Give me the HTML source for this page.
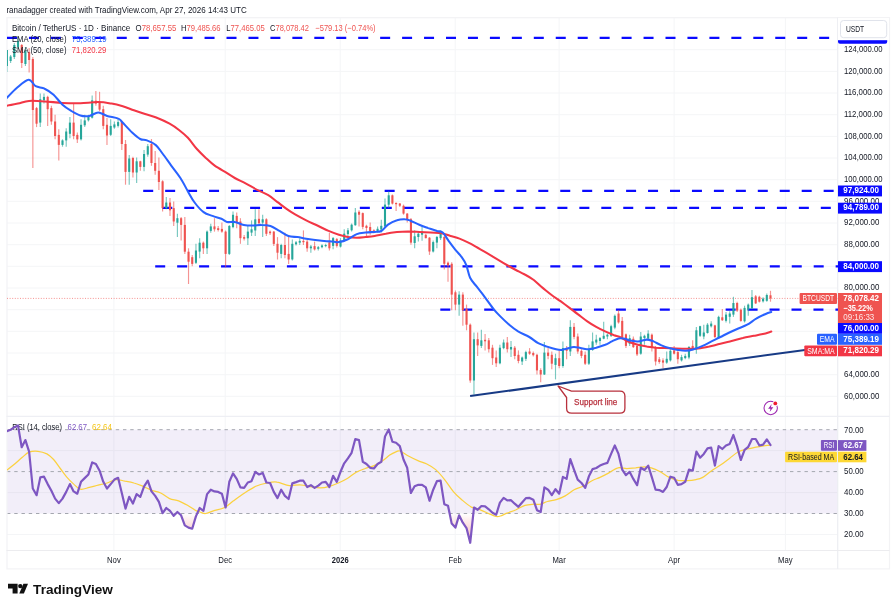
<!DOCTYPE html>
<html><head><meta charset="utf-8"><title>BTCUSDT</title>
<style>html,body{margin:0;padding:0;background:#fff;}body{width:896px;height:609px;overflow:hidden;font-family:"Liberation Sans", sans-serif;}svg{display:block;}</style>
</head><body>
<svg width="896" height="609" viewBox="0 0 896 609" font-family='"Liberation Sans", sans-serif'>
<defs>
<clipPath id="cm"><rect x="7" y="18" width="831" height="398"/></clipPath>
<clipPath id="cr"><rect x="7" y="416.5" width="831" height="134"/></clipPath>
<clipPath id="below30"><rect x="7" y="513.5" width="831" height="40"/></clipPath>
<clipPath id="above70"><rect x="7" y="416" width="831" height="13.7"/></clipPath>
<linearGradient id="gos" gradientUnits="userSpaceOnUse" x1="0" y1="513.5" x2="0" y2="565.9"><stop offset="0" stop-color="#ef5350" stop-opacity="0"/><stop offset="1" stop-color="#ef5350" stop-opacity="0.8"/></linearGradient>
<linearGradient id="gob" gradientUnits="userSpaceOnUse" x1="0" y1="429.7" x2="0" y2="387.8"><stop offset="0" stop-color="#26a69a" stop-opacity="0"/><stop offset="1" stop-color="#26a69a" stop-opacity="0.5"/></linearGradient>
</defs>
<rect width="896" height="609" fill="#fff"/>
<text x="6.4" y="12.9" font-size="9.3" fill="#131722" text-anchor="start" font-weight="normal" textLength="240.3" lengthAdjust="spacingAndGlyphs" >ranadagger created with TradingView.com, Apr 27, 2026 14:43 UTC</text>
<line x1="113.9" y1="18" x2="113.9" y2="550" stroke="#f4f5f7" stroke-width="1"/>
<line x1="225.2" y1="18" x2="225.2" y2="550" stroke="#f4f5f7" stroke-width="1"/>
<line x1="340.2" y1="18" x2="340.2" y2="550" stroke="#f4f5f7" stroke-width="1"/>
<line x1="455.2" y1="18" x2="455.2" y2="550" stroke="#f4f5f7" stroke-width="1"/>
<line x1="559.1" y1="18" x2="559.1" y2="550" stroke="#f4f5f7" stroke-width="1"/>
<line x1="674.1" y1="18" x2="674.1" y2="550" stroke="#f4f5f7" stroke-width="1"/>
<line x1="785.4" y1="18" x2="785.4" y2="550" stroke="#f4f5f7" stroke-width="1"/>
<line x1="7" y1="396.3" x2="838" y2="396.3" stroke="#f4f5f7" stroke-width="1"/>
<line x1="7" y1="374.7" x2="838" y2="374.7" stroke="#f4f5f7" stroke-width="1"/>
<line x1="7" y1="353.0" x2="838" y2="353.0" stroke="#f4f5f7" stroke-width="1"/>
<line x1="7" y1="331.3" x2="838" y2="331.3" stroke="#f4f5f7" stroke-width="1"/>
<line x1="7" y1="309.7" x2="838" y2="309.7" stroke="#f4f5f7" stroke-width="1"/>
<line x1="7" y1="288.0" x2="838" y2="288.0" stroke="#f4f5f7" stroke-width="1"/>
<line x1="7" y1="266.3" x2="838" y2="266.3" stroke="#f4f5f7" stroke-width="1"/>
<line x1="7" y1="244.7" x2="838" y2="244.7" stroke="#f4f5f7" stroke-width="1"/>
<line x1="7" y1="223.0" x2="838" y2="223.0" stroke="#f4f5f7" stroke-width="1"/>
<line x1="7" y1="201.3" x2="838" y2="201.3" stroke="#f4f5f7" stroke-width="1"/>
<line x1="7" y1="179.7" x2="838" y2="179.7" stroke="#f4f5f7" stroke-width="1"/>
<line x1="7" y1="158.0" x2="838" y2="158.0" stroke="#f4f5f7" stroke-width="1"/>
<line x1="7" y1="136.4" x2="838" y2="136.4" stroke="#f4f5f7" stroke-width="1"/>
<line x1="7" y1="114.7" x2="838" y2="114.7" stroke="#f4f5f7" stroke-width="1"/>
<line x1="7" y1="93.0" x2="838" y2="93.0" stroke="#f4f5f7" stroke-width="1"/>
<line x1="7" y1="71.4" x2="838" y2="71.4" stroke="#f4f5f7" stroke-width="1"/>
<line x1="7" y1="49.7" x2="838" y2="49.7" stroke="#f4f5f7" stroke-width="1"/>
<line x1="7" y1="534.5" x2="838" y2="534.5" stroke="#f4f5f7" stroke-width="1"/>
<line x1="7" y1="492.6" x2="838" y2="492.6" stroke="#f4f5f7" stroke-width="1"/>
<line x1="7" y1="450.6" x2="838" y2="450.6" stroke="#f4f5f7" stroke-width="1"/>
<rect x="7" y="429.7" width="831" height="83.8" fill="#7e57c2" fill-opacity="0.1"/>
<line x1="7" y1="429.7" x2="838" y2="429.7" stroke="#a4a7af" stroke-width="1" stroke-dasharray="3.4 3.85"/>
<line x1="7" y1="471.6" x2="838" y2="471.6" stroke="#a4a7af" stroke-width="1" stroke-dasharray="3.4 3.85"/>
<line x1="7" y1="513.5" x2="838" y2="513.5" stroke="#a4a7af" stroke-width="1" stroke-dasharray="3.4 3.85"/>
<rect x="7.0" y="17.7" width="882.5" height="551.2" fill="none" stroke="#f3f3f5" stroke-width="1.25"/>
<line x1="837.7" y1="17.5" x2="837.7" y2="569" stroke="#edeef3" stroke-width="1.25"/>
<line x1="6.5" y1="416.4" x2="889.5" y2="416.4" stroke="#eeeff4" stroke-width="1.4"/>
<line x1="6.5" y1="550.5" x2="889.5" y2="550.5" stroke="#ececef" stroke-width="1.1"/>
<line x1="7" y1="298.4" x2="838" y2="298.4" stroke="#ef5350" stroke-width="0.8" stroke-dasharray="1 1.6" stroke-opacity="0.8"/>
<line x1="7.0" y1="37.8" x2="838" y2="37.8" stroke="#0a0aff" stroke-width="2.2" stroke-dasharray="10 11.95"/>
<line x1="143.2" y1="190.9" x2="838" y2="190.9" stroke="#0a0aff" stroke-width="2.2" stroke-dasharray="10 11.95"/>
<line x1="162.3" y1="207.9" x2="838" y2="207.9" stroke="#0a0aff" stroke-width="2.2" stroke-dasharray="10 11.95"/>
<line x1="155.2" y1="266.3" x2="838" y2="266.3" stroke="#0a0aff" stroke-width="2.2" stroke-dasharray="10 11.95"/>
<line x1="440.3" y1="309.7" x2="838" y2="309.7" stroke="#0a0aff" stroke-width="2.2" stroke-dasharray="10 11.95"/>
<g clip-path="url(#cm)" shape-rendering="auto">
<line x1="6.90" y1="50.0" x2="6.90" y2="72.0" stroke="#26a69a" stroke-width="1.15" stroke-opacity="0.62"/>
<rect x="5.85" y="50.0" width="2.1" height="16.0" fill="#26a69a"/>
<line x1="10.61" y1="55.0" x2="10.61" y2="63.0" stroke="#26a69a" stroke-width="1.15" stroke-opacity="0.62"/>
<rect x="9.56" y="56.5" width="2.1" height="4.5" fill="#26a69a"/>
<line x1="14.31" y1="43.0" x2="14.31" y2="59.0" stroke="#26a69a" stroke-width="1.15" stroke-opacity="0.62"/>
<rect x="13.26" y="45.0" width="2.1" height="12.0" fill="#26a69a"/>
<line x1="18.02" y1="37.0" x2="18.02" y2="49.0" stroke="#26a69a" stroke-width="1.15" stroke-opacity="0.62"/>
<rect x="16.97" y="41.0" width="2.1" height="6.0" fill="#26a69a"/>
<line x1="21.73" y1="44.0" x2="21.73" y2="68.0" stroke="#ef5350" stroke-width="1.15" stroke-opacity="0.62"/>
<rect x="20.68" y="45.0" width="2.1" height="18.0" fill="#ef5350"/>
<line x1="25.43" y1="47.0" x2="25.43" y2="66.0" stroke="#26a69a" stroke-width="1.15" stroke-opacity="0.62"/>
<rect x="24.38" y="51.0" width="2.1" height="13.0" fill="#26a69a"/>
<line x1="29.14" y1="48.0" x2="29.14" y2="72.5" stroke="#ef5350" stroke-width="1.15" stroke-opacity="0.62"/>
<rect x="28.09" y="52.0" width="2.1" height="8.0" fill="#ef5350"/>
<line x1="32.85" y1="57.0" x2="32.85" y2="168.0" stroke="#ef5350" stroke-width="1.15" stroke-opacity="0.62"/>
<rect x="31.80" y="59.0" width="2.1" height="51.0" fill="#ef5350"/>
<line x1="36.55" y1="107.0" x2="36.55" y2="127.1" stroke="#ef5350" stroke-width="1.15" stroke-opacity="0.62"/>
<rect x="35.50" y="108.1" width="2.1" height="15.6" fill="#ef5350"/>
<line x1="40.26" y1="93.6" x2="40.26" y2="127.1" stroke="#26a69a" stroke-width="1.15" stroke-opacity="0.62"/>
<rect x="39.21" y="99.2" width="2.1" height="23.4" fill="#26a69a"/>
<line x1="43.97" y1="93.6" x2="43.97" y2="103.6" stroke="#26a69a" stroke-width="1.15" stroke-opacity="0.62"/>
<rect x="42.92" y="96.9" width="2.1" height="3.3" fill="#26a69a"/>
<line x1="47.67" y1="95.8" x2="47.67" y2="125.9" stroke="#ef5350" stroke-width="1.15" stroke-opacity="0.62"/>
<rect x="46.62" y="96.9" width="2.1" height="12.3" fill="#ef5350"/>
<line x1="51.38" y1="105.8" x2="51.38" y2="124.8" stroke="#ef5350" stroke-width="1.15" stroke-opacity="0.62"/>
<rect x="50.33" y="108.1" width="2.1" height="13.4" fill="#ef5350"/>
<line x1="55.09" y1="114.8" x2="55.09" y2="139.3" stroke="#ef5350" stroke-width="1.15" stroke-opacity="0.62"/>
<rect x="54.04" y="121.5" width="2.1" height="14.5" fill="#ef5350"/>
<line x1="58.80" y1="129.3" x2="58.80" y2="160.5" stroke="#ef5350" stroke-width="1.15" stroke-opacity="0.62"/>
<rect x="57.75" y="134.9" width="2.1" height="10.0" fill="#ef5350"/>
<line x1="62.50" y1="139.3" x2="62.50" y2="146.7" stroke="#26a69a" stroke-width="1.15" stroke-opacity="0.62"/>
<rect x="61.45" y="140.4" width="2.1" height="4.5" fill="#26a69a"/>
<line x1="66.21" y1="128.2" x2="66.21" y2="146.7" stroke="#26a69a" stroke-width="1.15" stroke-opacity="0.62"/>
<rect x="65.16" y="131.5" width="2.1" height="8.9" fill="#26a69a"/>
<line x1="69.92" y1="117.0" x2="69.92" y2="138.2" stroke="#26a69a" stroke-width="1.15" stroke-opacity="0.62"/>
<rect x="68.87" y="122.6" width="2.1" height="11.2" fill="#26a69a"/>
<line x1="73.62" y1="103.6" x2="73.62" y2="139.3" stroke="#ef5350" stroke-width="1.15" stroke-opacity="0.62"/>
<rect x="72.57" y="122.6" width="2.1" height="13.4" fill="#ef5350"/>
<line x1="77.33" y1="132.6" x2="77.33" y2="143.1" stroke="#ef5350" stroke-width="1.15" stroke-opacity="0.62"/>
<rect x="76.28" y="134.9" width="2.1" height="4.5" fill="#ef5350"/>
<line x1="81.04" y1="119.2" x2="81.04" y2="140.4" stroke="#26a69a" stroke-width="1.15" stroke-opacity="0.62"/>
<rect x="79.99" y="124.8" width="2.1" height="14.5" fill="#26a69a"/>
<line x1="84.74" y1="114.8" x2="84.74" y2="127.1" stroke="#26a69a" stroke-width="1.15" stroke-opacity="0.62"/>
<rect x="83.69" y="120.4" width="2.1" height="4.9" fill="#26a69a"/>
<line x1="88.45" y1="114.8" x2="88.45" y2="121.5" stroke="#26a69a" stroke-width="1.15" stroke-opacity="0.62"/>
<rect x="87.40" y="117.0" width="2.1" height="3.3" fill="#26a69a"/>
<line x1="92.16" y1="95.4" x2="92.16" y2="118.6" stroke="#26a69a" stroke-width="1.15" stroke-opacity="0.62"/>
<rect x="91.11" y="100.3" width="2.1" height="17.4" fill="#26a69a"/>
<line x1="95.86" y1="90.9" x2="95.86" y2="105.8" stroke="#ef5350" stroke-width="1.15" stroke-opacity="0.62"/>
<rect x="94.81" y="100.7" width="2.1" height="2.9" fill="#ef5350"/>
<line x1="99.57" y1="91.8" x2="99.57" y2="111.4" stroke="#ef5350" stroke-width="1.15" stroke-opacity="0.62"/>
<rect x="98.52" y="102.5" width="2.1" height="7.1" fill="#ef5350"/>
<line x1="103.28" y1="105.8" x2="103.28" y2="129.3" stroke="#ef5350" stroke-width="1.15" stroke-opacity="0.62"/>
<rect x="102.23" y="109.2" width="2.1" height="16.7" fill="#ef5350"/>
<line x1="106.98" y1="118.1" x2="106.98" y2="144.9" stroke="#ef5350" stroke-width="1.15" stroke-opacity="0.62"/>
<rect x="105.93" y="124.8" width="2.1" height="10.7" fill="#ef5350"/>
<line x1="110.69" y1="119.2" x2="110.69" y2="136.0" stroke="#26a69a" stroke-width="1.15" stroke-opacity="0.62"/>
<rect x="109.64" y="125.9" width="2.1" height="8.9" fill="#26a69a"/>
<line x1="114.40" y1="121.5" x2="114.40" y2="128.8" stroke="#26a69a" stroke-width="1.15" stroke-opacity="0.62"/>
<rect x="113.35" y="124.4" width="2.1" height="3.1" fill="#26a69a"/>
<line x1="118.10" y1="118.1" x2="118.10" y2="127.5" stroke="#26a69a" stroke-width="1.15" stroke-opacity="0.62"/>
<rect x="117.05" y="122.1" width="2.1" height="3.8" fill="#26a69a"/>
<line x1="121.81" y1="120.5" x2="121.81" y2="150.0" stroke="#ef5350" stroke-width="1.15" stroke-opacity="0.62"/>
<rect x="120.76" y="121.7" width="2.1" height="22.3" fill="#ef5350"/>
<line x1="125.52" y1="140.0" x2="125.52" y2="184.7" stroke="#ef5350" stroke-width="1.15" stroke-opacity="0.62"/>
<rect x="124.47" y="144.0" width="2.1" height="27.9" fill="#ef5350"/>
<line x1="129.22" y1="155.0" x2="129.22" y2="184.7" stroke="#26a69a" stroke-width="1.15" stroke-opacity="0.62"/>
<rect x="128.17" y="158.5" width="2.1" height="13.4" fill="#26a69a"/>
<line x1="132.93" y1="156.8" x2="132.93" y2="177.5" stroke="#ef5350" stroke-width="1.15" stroke-opacity="0.62"/>
<rect x="131.88" y="158.0" width="2.1" height="14.5" fill="#ef5350"/>
<line x1="136.64" y1="157.4" x2="136.64" y2="183.0" stroke="#26a69a" stroke-width="1.15" stroke-opacity="0.62"/>
<rect x="135.59" y="161.3" width="2.1" height="11.2" fill="#26a69a"/>
<line x1="140.34" y1="160.7" x2="140.34" y2="170.8" stroke="#ef5350" stroke-width="1.15" stroke-opacity="0.62"/>
<rect x="139.29" y="161.3" width="2.1" height="5.6" fill="#ef5350"/>
<line x1="144.05" y1="150.0" x2="144.05" y2="171.3" stroke="#26a69a" stroke-width="1.15" stroke-opacity="0.62"/>
<rect x="143.00" y="154.0" width="2.1" height="12.9" fill="#26a69a"/>
<line x1="147.76" y1="144.0" x2="147.76" y2="156.8" stroke="#26a69a" stroke-width="1.15" stroke-opacity="0.62"/>
<rect x="146.71" y="146.2" width="2.1" height="8.4" fill="#26a69a"/>
<line x1="151.47" y1="139.0" x2="151.47" y2="165.8" stroke="#ef5350" stroke-width="1.15" stroke-opacity="0.62"/>
<rect x="150.42" y="144.0" width="2.1" height="19.0" fill="#ef5350"/>
<line x1="155.17" y1="151.0" x2="155.17" y2="174.7" stroke="#ef5350" stroke-width="1.15" stroke-opacity="0.62"/>
<rect x="154.12" y="163.0" width="2.1" height="7.8" fill="#ef5350"/>
<line x1="158.88" y1="157.4" x2="158.88" y2="190.0" stroke="#ef5350" stroke-width="1.15" stroke-opacity="0.62"/>
<rect x="157.83" y="170.8" width="2.1" height="11.2" fill="#ef5350"/>
<line x1="162.59" y1="180.2" x2="162.59" y2="211.5" stroke="#ef5350" stroke-width="1.15" stroke-opacity="0.62"/>
<rect x="161.54" y="181.3" width="2.1" height="26.8" fill="#ef5350"/>
<line x1="166.29" y1="197.0" x2="166.29" y2="209.2" stroke="#26a69a" stroke-width="1.15" stroke-opacity="0.62"/>
<rect x="165.24" y="202.5" width="2.1" height="5.6" fill="#26a69a"/>
<line x1="170.00" y1="198.1" x2="170.00" y2="215.9" stroke="#ef5350" stroke-width="1.15" stroke-opacity="0.62"/>
<rect x="168.95" y="202.5" width="2.1" height="7.8" fill="#ef5350"/>
<line x1="173.71" y1="201.4" x2="173.71" y2="226.0" stroke="#ef5350" stroke-width="1.15" stroke-opacity="0.62"/>
<rect x="172.66" y="208.1" width="2.1" height="13.4" fill="#ef5350"/>
<line x1="177.41" y1="213.7" x2="177.41" y2="237.1" stroke="#26a69a" stroke-width="1.15" stroke-opacity="0.62"/>
<rect x="176.36" y="218.2" width="2.1" height="4.5" fill="#26a69a"/>
<line x1="181.12" y1="217.1" x2="181.12" y2="240.5" stroke="#ef5350" stroke-width="1.15" stroke-opacity="0.62"/>
<rect x="180.07" y="218.2" width="2.1" height="6.7" fill="#ef5350"/>
<line x1="184.83" y1="217.1" x2="184.83" y2="253.9" stroke="#ef5350" stroke-width="1.15" stroke-opacity="0.62"/>
<rect x="183.78" y="224.9" width="2.1" height="26.8" fill="#ef5350"/>
<line x1="188.53" y1="248.3" x2="188.53" y2="284.0" stroke="#ef5350" stroke-width="1.15" stroke-opacity="0.62"/>
<rect x="187.48" y="251.7" width="2.1" height="10.0" fill="#ef5350"/>
<line x1="192.24" y1="255.0" x2="192.24" y2="266.2" stroke="#ef5350" stroke-width="1.15" stroke-opacity="0.62"/>
<rect x="191.19" y="257.2" width="2.1" height="6.7" fill="#ef5350"/>
<line x1="195.95" y1="243.8" x2="195.95" y2="263.9" stroke="#26a69a" stroke-width="1.15" stroke-opacity="0.62"/>
<rect x="194.90" y="250.5" width="2.1" height="12.3" fill="#26a69a"/>
<line x1="199.65" y1="238.3" x2="199.65" y2="258.3" stroke="#26a69a" stroke-width="1.15" stroke-opacity="0.62"/>
<rect x="198.60" y="242.7" width="2.1" height="8.9" fill="#26a69a"/>
<line x1="203.36" y1="241.6" x2="203.36" y2="253.9" stroke="#ef5350" stroke-width="1.15" stroke-opacity="0.62"/>
<rect x="202.31" y="242.7" width="2.1" height="5.6" fill="#ef5350"/>
<line x1="207.07" y1="230.4" x2="207.07" y2="253.9" stroke="#26a69a" stroke-width="1.15" stroke-opacity="0.62"/>
<rect x="206.02" y="231.6" width="2.1" height="16.7" fill="#26a69a"/>
<line x1="210.77" y1="223.8" x2="210.77" y2="232.7" stroke="#26a69a" stroke-width="1.15" stroke-opacity="0.62"/>
<rect x="209.72" y="226.4" width="2.1" height="4.5" fill="#26a69a"/>
<line x1="214.48" y1="218.2" x2="214.48" y2="231.6" stroke="#ef5350" stroke-width="1.15" stroke-opacity="0.62"/>
<rect x="213.43" y="226.4" width="2.1" height="2.9" fill="#ef5350"/>
<line x1="218.19" y1="226.0" x2="218.19" y2="231.6" stroke="#ef5350" stroke-width="1.15" stroke-opacity="0.62"/>
<rect x="217.14" y="228.2" width="2.1" height="1.8" fill="#ef5350"/>
<line x1="221.89" y1="222.6" x2="221.89" y2="232.7" stroke="#ef5350" stroke-width="1.15" stroke-opacity="0.62"/>
<rect x="220.84" y="228.9" width="2.1" height="2.7" fill="#ef5350"/>
<line x1="225.60" y1="230.4" x2="225.60" y2="267.3" stroke="#ef5350" stroke-width="1.15" stroke-opacity="0.62"/>
<rect x="224.55" y="231.6" width="2.1" height="22.3" fill="#ef5350"/>
<line x1="229.31" y1="224.9" x2="229.31" y2="255.0" stroke="#26a69a" stroke-width="1.15" stroke-opacity="0.62"/>
<rect x="228.26" y="226.0" width="2.1" height="27.9" fill="#26a69a"/>
<line x1="233.01" y1="211.5" x2="233.01" y2="228.2" stroke="#26a69a" stroke-width="1.15" stroke-opacity="0.62"/>
<rect x="231.96" y="214.8" width="2.1" height="12.3" fill="#26a69a"/>
<line x1="236.72" y1="212.6" x2="236.72" y2="228.2" stroke="#ef5350" stroke-width="1.15" stroke-opacity="0.62"/>
<rect x="235.67" y="215.9" width="2.1" height="6.7" fill="#ef5350"/>
<line x1="240.43" y1="218.2" x2="240.43" y2="243.8" stroke="#ef5350" stroke-width="1.15" stroke-opacity="0.62"/>
<rect x="239.38" y="221.5" width="2.1" height="16.7" fill="#ef5350"/>
<line x1="244.14" y1="234.9" x2="244.14" y2="240.5" stroke="#ef5350" stroke-width="1.15" stroke-opacity="0.62"/>
<rect x="243.09" y="237.1" width="2.1" height="1.6" fill="#ef5350"/>
<line x1="247.84" y1="224.9" x2="247.84" y2="245.0" stroke="#26a69a" stroke-width="1.15" stroke-opacity="0.62"/>
<rect x="246.79" y="231.6" width="2.1" height="6.7" fill="#26a69a"/>
<line x1="251.55" y1="220.4" x2="251.55" y2="236.0" stroke="#26a69a" stroke-width="1.15" stroke-opacity="0.62"/>
<rect x="250.50" y="229.3" width="2.1" height="3.3" fill="#26a69a"/>
<line x1="255.26" y1="209.2" x2="255.26" y2="236.0" stroke="#26a69a" stroke-width="1.15" stroke-opacity="0.62"/>
<rect x="254.21" y="219.3" width="2.1" height="11.2" fill="#26a69a"/>
<line x1="258.96" y1="209.2" x2="258.96" y2="223.8" stroke="#ef5350" stroke-width="1.15" stroke-opacity="0.62"/>
<rect x="257.91" y="218.8" width="2.1" height="4.5" fill="#ef5350"/>
<line x1="262.67" y1="214.8" x2="262.67" y2="237.1" stroke="#26a69a" stroke-width="1.15" stroke-opacity="0.62"/>
<rect x="261.62" y="219.3" width="2.1" height="3.3" fill="#26a69a"/>
<line x1="266.38" y1="218.2" x2="266.38" y2="236.0" stroke="#ef5350" stroke-width="1.15" stroke-opacity="0.62"/>
<rect x="265.33" y="219.3" width="2.1" height="14.5" fill="#ef5350"/>
<line x1="270.08" y1="230.4" x2="270.08" y2="234.9" stroke="#ef5350" stroke-width="1.15" stroke-opacity="0.62"/>
<rect x="269.03" y="231.6" width="2.1" height="1.6" fill="#ef5350"/>
<line x1="273.79" y1="230.9" x2="273.79" y2="246.1" stroke="#ef5350" stroke-width="1.15" stroke-opacity="0.62"/>
<rect x="272.74" y="231.6" width="2.1" height="12.3" fill="#ef5350"/>
<line x1="277.50" y1="237.1" x2="277.50" y2="259.5" stroke="#ef5350" stroke-width="1.15" stroke-opacity="0.62"/>
<rect x="276.45" y="243.8" width="2.1" height="8.9" fill="#ef5350"/>
<line x1="281.20" y1="243.8" x2="281.20" y2="258.3" stroke="#26a69a" stroke-width="1.15" stroke-opacity="0.62"/>
<rect x="280.15" y="245.0" width="2.1" height="8.9" fill="#26a69a"/>
<line x1="284.91" y1="232.7" x2="284.91" y2="258.3" stroke="#ef5350" stroke-width="1.15" stroke-opacity="0.62"/>
<rect x="283.86" y="245.0" width="2.1" height="10.0" fill="#ef5350"/>
<line x1="288.62" y1="236.0" x2="288.62" y2="263.9" stroke="#ef5350" stroke-width="1.15" stroke-opacity="0.62"/>
<rect x="287.57" y="253.9" width="2.1" height="5.6" fill="#ef5350"/>
<line x1="292.32" y1="239.4" x2="292.32" y2="260.6" stroke="#26a69a" stroke-width="1.15" stroke-opacity="0.62"/>
<rect x="291.27" y="243.8" width="2.1" height="15.6" fill="#26a69a"/>
<line x1="296.03" y1="240.9" x2="296.03" y2="245.4" stroke="#26a69a" stroke-width="1.15" stroke-opacity="0.62"/>
<rect x="294.98" y="242.3" width="2.1" height="2.0" fill="#26a69a"/>
<line x1="299.74" y1="238.3" x2="299.74" y2="245.0" stroke="#26a69a" stroke-width="1.15" stroke-opacity="0.62"/>
<rect x="298.69" y="240.9" width="2.1" height="1.8" fill="#26a69a"/>
<line x1="303.44" y1="230.4" x2="303.44" y2="245.0" stroke="#ef5350" stroke-width="1.15" stroke-opacity="0.62"/>
<rect x="302.39" y="240.9" width="2.1" height="1.3" fill="#ef5350"/>
<line x1="307.15" y1="239.4" x2="307.15" y2="251.7" stroke="#ef5350" stroke-width="1.15" stroke-opacity="0.62"/>
<rect x="306.10" y="241.6" width="2.1" height="6.7" fill="#ef5350"/>
<line x1="310.86" y1="245.0" x2="310.86" y2="252.8" stroke="#26a69a" stroke-width="1.15" stroke-opacity="0.62"/>
<rect x="309.81" y="246.5" width="2.1" height="1.8" fill="#26a69a"/>
<line x1="314.56" y1="241.6" x2="314.56" y2="250.5" stroke="#ef5350" stroke-width="1.15" stroke-opacity="0.62"/>
<rect x="313.51" y="246.1" width="2.1" height="3.3" fill="#ef5350"/>
<line x1="318.27" y1="246.1" x2="318.27" y2="250.5" stroke="#26a69a" stroke-width="1.15" stroke-opacity="0.62"/>
<rect x="317.22" y="247.2" width="2.1" height="1.6" fill="#26a69a"/>
<line x1="321.98" y1="244.3" x2="321.98" y2="248.3" stroke="#26a69a" stroke-width="1.15" stroke-opacity="0.62"/>
<rect x="320.93" y="245.4" width="2.1" height="1.8" fill="#26a69a"/>
<line x1="325.68" y1="243.8" x2="325.68" y2="247.2" stroke="#26a69a" stroke-width="1.15" stroke-opacity="0.62"/>
<rect x="324.63" y="245.0" width="2.1" height="1.1" fill="#26a69a"/>
<line x1="329.39" y1="232.7" x2="329.39" y2="250.5" stroke="#ef5350" stroke-width="1.15" stroke-opacity="0.62"/>
<rect x="328.34" y="242.3" width="2.1" height="6.0" fill="#ef5350"/>
<line x1="333.10" y1="237.0" x2="333.10" y2="249.3" stroke="#26a69a" stroke-width="1.15" stroke-opacity="0.62"/>
<rect x="332.05" y="238.1" width="2.1" height="7.8" fill="#26a69a"/>
<line x1="336.81" y1="238.1" x2="336.81" y2="247.5" stroke="#ef5350" stroke-width="1.15" stroke-opacity="0.62"/>
<rect x="335.76" y="239.2" width="2.1" height="6.7" fill="#ef5350"/>
<line x1="340.51" y1="238.1" x2="340.51" y2="247.5" stroke="#26a69a" stroke-width="1.15" stroke-opacity="0.62"/>
<rect x="339.46" y="240.4" width="2.1" height="6.2" fill="#26a69a"/>
<line x1="344.22" y1="229.2" x2="344.22" y2="241.5" stroke="#26a69a" stroke-width="1.15" stroke-opacity="0.62"/>
<rect x="343.17" y="233.7" width="2.1" height="6.7" fill="#26a69a"/>
<line x1="347.93" y1="228.1" x2="347.93" y2="235.9" stroke="#26a69a" stroke-width="1.15" stroke-opacity="0.62"/>
<rect x="346.88" y="230.3" width="2.1" height="3.8" fill="#26a69a"/>
<line x1="351.63" y1="223.6" x2="351.63" y2="231.4" stroke="#26a69a" stroke-width="1.15" stroke-opacity="0.62"/>
<rect x="350.58" y="224.7" width="2.1" height="5.6" fill="#26a69a"/>
<line x1="355.34" y1="208.0" x2="355.34" y2="225.8" stroke="#26a69a" stroke-width="1.15" stroke-opacity="0.62"/>
<rect x="354.29" y="212.5" width="2.1" height="12.7" fill="#26a69a"/>
<line x1="359.05" y1="210.2" x2="359.05" y2="226.5" stroke="#ef5350" stroke-width="1.15" stroke-opacity="0.62"/>
<rect x="358.00" y="211.8" width="2.1" height="2.9" fill="#ef5350"/>
<line x1="362.75" y1="212.5" x2="362.75" y2="229.2" stroke="#ef5350" stroke-width="1.15" stroke-opacity="0.62"/>
<rect x="361.70" y="213.1" width="2.1" height="13.8" fill="#ef5350"/>
<line x1="366.46" y1="224.7" x2="366.46" y2="237.0" stroke="#ef5350" stroke-width="1.15" stroke-opacity="0.62"/>
<rect x="365.41" y="225.8" width="2.1" height="2.2" fill="#ef5350"/>
<line x1="370.17" y1="222.5" x2="370.17" y2="234.8" stroke="#ef5350" stroke-width="1.15" stroke-opacity="0.62"/>
<rect x="369.12" y="227.0" width="2.1" height="4.5" fill="#ef5350"/>
<line x1="373.87" y1="229.2" x2="373.87" y2="233.2" stroke="#ef5350" stroke-width="1.15" stroke-opacity="0.62"/>
<rect x="372.82" y="230.3" width="2.1" height="1.6" fill="#ef5350"/>
<line x1="377.58" y1="226.5" x2="377.58" y2="232.5" stroke="#26a69a" stroke-width="1.15" stroke-opacity="0.62"/>
<rect x="376.53" y="228.8" width="2.1" height="2.7" fill="#26a69a"/>
<line x1="381.29" y1="219.8" x2="381.29" y2="232.5" stroke="#26a69a" stroke-width="1.15" stroke-opacity="0.62"/>
<rect x="380.24" y="225.8" width="2.1" height="3.8" fill="#26a69a"/>
<line x1="384.99" y1="198.4" x2="384.99" y2="228.1" stroke="#26a69a" stroke-width="1.15" stroke-opacity="0.62"/>
<rect x="383.94" y="204.6" width="2.1" height="21.9" fill="#26a69a"/>
<line x1="388.70" y1="191.2" x2="388.70" y2="208.0" stroke="#26a69a" stroke-width="1.15" stroke-opacity="0.62"/>
<rect x="387.65" y="195.3" width="2.1" height="9.4" fill="#26a69a"/>
<line x1="392.41" y1="194.6" x2="392.41" y2="204.6" stroke="#ef5350" stroke-width="1.15" stroke-opacity="0.62"/>
<rect x="391.36" y="195.3" width="2.1" height="8.3" fill="#ef5350"/>
<line x1="396.11" y1="202.4" x2="396.11" y2="210.9" stroke="#ef5350" stroke-width="1.15" stroke-opacity="0.62"/>
<rect x="395.06" y="202.9" width="2.1" height="1.3" fill="#ef5350"/>
<line x1="399.82" y1="202.9" x2="399.82" y2="206.9" stroke="#ef5350" stroke-width="1.15" stroke-opacity="0.62"/>
<rect x="398.77" y="203.5" width="2.1" height="2.2" fill="#ef5350"/>
<line x1="403.53" y1="204.6" x2="403.53" y2="214.7" stroke="#ef5350" stroke-width="1.15" stroke-opacity="0.62"/>
<rect x="402.48" y="205.8" width="2.1" height="7.8" fill="#ef5350"/>
<line x1="407.23" y1="213.1" x2="407.23" y2="222.5" stroke="#ef5350" stroke-width="1.15" stroke-opacity="0.62"/>
<rect x="406.18" y="213.6" width="2.1" height="6.2" fill="#ef5350"/>
<line x1="410.94" y1="218.0" x2="410.94" y2="244.8" stroke="#ef5350" stroke-width="1.15" stroke-opacity="0.62"/>
<rect x="409.89" y="219.2" width="2.1" height="23.4" fill="#ef5350"/>
<line x1="414.65" y1="230.3" x2="414.65" y2="248.2" stroke="#26a69a" stroke-width="1.15" stroke-opacity="0.62"/>
<rect x="413.60" y="236.3" width="2.1" height="6.7" fill="#26a69a"/>
<line x1="418.35" y1="231.9" x2="418.35" y2="241.5" stroke="#26a69a" stroke-width="1.15" stroke-opacity="0.62"/>
<rect x="417.30" y="233.7" width="2.1" height="3.3" fill="#26a69a"/>
<line x1="422.06" y1="226.5" x2="422.06" y2="240.8" stroke="#26a69a" stroke-width="1.15" stroke-opacity="0.62"/>
<rect x="421.01" y="231.4" width="2.1" height="3.3" fill="#26a69a"/>
<line x1="425.77" y1="233.7" x2="425.77" y2="238.6" stroke="#ef5350" stroke-width="1.15" stroke-opacity="0.62"/>
<rect x="424.72" y="234.8" width="2.1" height="3.3" fill="#ef5350"/>
<line x1="429.48" y1="237.0" x2="429.48" y2="254.9" stroke="#ef5350" stroke-width="1.15" stroke-opacity="0.62"/>
<rect x="428.43" y="237.7" width="2.1" height="13.8" fill="#ef5350"/>
<line x1="433.18" y1="240.4" x2="433.18" y2="252.6" stroke="#26a69a" stroke-width="1.15" stroke-opacity="0.62"/>
<rect x="432.13" y="242.1" width="2.1" height="9.4" fill="#26a69a"/>
<line x1="436.89" y1="235.9" x2="436.89" y2="248.2" stroke="#26a69a" stroke-width="1.15" stroke-opacity="0.62"/>
<rect x="435.84" y="237.0" width="2.1" height="5.6" fill="#26a69a"/>
<line x1="440.60" y1="230.3" x2="440.60" y2="239.9" stroke="#26a69a" stroke-width="1.15" stroke-opacity="0.62"/>
<rect x="439.55" y="233.7" width="2.1" height="4.5" fill="#26a69a"/>
<line x1="444.30" y1="235.9" x2="444.30" y2="269.4" stroke="#ef5350" stroke-width="1.15" stroke-opacity="0.62"/>
<rect x="443.25" y="237.0" width="2.1" height="26.8" fill="#ef5350"/>
<line x1="448.01" y1="261.6" x2="448.01" y2="281.7" stroke="#ef5350" stroke-width="1.15" stroke-opacity="0.62"/>
<rect x="446.96" y="262.7" width="2.1" height="2.7" fill="#ef5350"/>
<line x1="451.72" y1="262.2" x2="451.72" y2="310.2" stroke="#ef5350" stroke-width="1.15" stroke-opacity="0.62"/>
<rect x="450.67" y="263.8" width="2.1" height="30.8" fill="#ef5350"/>
<line x1="455.42" y1="290.5" x2="455.42" y2="310.2" stroke="#ef5350" stroke-width="1.15" stroke-opacity="0.62"/>
<rect x="454.37" y="292.3" width="2.1" height="12.3" fill="#ef5350"/>
<line x1="459.13" y1="291.2" x2="459.13" y2="315.8" stroke="#26a69a" stroke-width="1.15" stroke-opacity="0.62"/>
<rect x="458.08" y="294.6" width="2.1" height="10.0" fill="#26a69a"/>
<line x1="462.84" y1="292.3" x2="462.84" y2="325.8" stroke="#ef5350" stroke-width="1.15" stroke-opacity="0.62"/>
<rect x="461.79" y="294.6" width="2.1" height="15.6" fill="#ef5350"/>
<line x1="466.54" y1="304.6" x2="466.54" y2="330.3" stroke="#ef5350" stroke-width="1.15" stroke-opacity="0.62"/>
<rect x="465.49" y="309.1" width="2.1" height="15.6" fill="#ef5350"/>
<line x1="470.25" y1="323.6" x2="470.25" y2="382.7" stroke="#ef5350" stroke-width="1.15" stroke-opacity="0.62"/>
<rect x="469.20" y="324.7" width="2.1" height="55.8" fill="#ef5350"/>
<line x1="473.96" y1="332.5" x2="473.96" y2="394.6" stroke="#26a69a" stroke-width="1.15" stroke-opacity="0.62"/>
<rect x="472.91" y="339.2" width="2.1" height="41.3" fill="#26a69a"/>
<line x1="477.66" y1="332.5" x2="477.66" y2="355.9" stroke="#ef5350" stroke-width="1.15" stroke-opacity="0.62"/>
<rect x="476.61" y="339.2" width="2.1" height="6.2" fill="#ef5350"/>
<line x1="481.37" y1="329.8" x2="481.37" y2="348.1" stroke="#26a69a" stroke-width="1.15" stroke-opacity="0.62"/>
<rect x="480.32" y="340.3" width="2.1" height="5.6" fill="#26a69a"/>
<line x1="485.08" y1="334.0" x2="485.08" y2="350.5" stroke="#ef5350" stroke-width="1.15" stroke-opacity="0.62"/>
<rect x="484.03" y="339.8" width="2.1" height="1.5" fill="#ef5350"/>
<line x1="488.78" y1="338.1" x2="488.78" y2="352.6" stroke="#ef5350" stroke-width="1.15" stroke-opacity="0.62"/>
<rect x="487.73" y="340.3" width="2.1" height="8.9" fill="#ef5350"/>
<line x1="492.49" y1="344.8" x2="492.49" y2="364.9" stroke="#ef5350" stroke-width="1.15" stroke-opacity="0.62"/>
<rect x="491.44" y="347.7" width="2.1" height="10.5" fill="#ef5350"/>
<line x1="496.20" y1="350.4" x2="496.20" y2="367.1" stroke="#ef5350" stroke-width="1.15" stroke-opacity="0.62"/>
<rect x="495.15" y="357.5" width="2.1" height="5.8" fill="#ef5350"/>
<line x1="499.90" y1="344.8" x2="499.90" y2="364.2" stroke="#26a69a" stroke-width="1.15" stroke-opacity="0.62"/>
<rect x="498.85" y="347.7" width="2.1" height="15.6" fill="#26a69a"/>
<line x1="503.61" y1="339.6" x2="503.61" y2="349.2" stroke="#26a69a" stroke-width="1.15" stroke-opacity="0.62"/>
<rect x="502.56" y="342.5" width="2.1" height="5.6" fill="#26a69a"/>
<line x1="507.32" y1="337.0" x2="507.32" y2="352.6" stroke="#ef5350" stroke-width="1.15" stroke-opacity="0.62"/>
<rect x="506.27" y="342.5" width="2.1" height="6.7" fill="#ef5350"/>
<line x1="511.02" y1="341.0" x2="511.02" y2="357.1" stroke="#26a69a" stroke-width="1.15" stroke-opacity="0.62"/>
<rect x="509.97" y="347.0" width="2.1" height="2.5" fill="#26a69a"/>
<line x1="514.73" y1="345.9" x2="514.73" y2="359.3" stroke="#ef5350" stroke-width="1.15" stroke-opacity="0.62"/>
<rect x="513.68" y="347.7" width="2.1" height="8.3" fill="#ef5350"/>
<line x1="518.44" y1="350.4" x2="518.44" y2="363.3" stroke="#ef5350" stroke-width="1.15" stroke-opacity="0.62"/>
<rect x="517.39" y="354.8" width="2.1" height="6.2" fill="#ef5350"/>
<line x1="522.15" y1="356.6" x2="522.15" y2="364.9" stroke="#26a69a" stroke-width="1.15" stroke-opacity="0.62"/>
<rect x="521.10" y="357.5" width="2.1" height="4.0" fill="#26a69a"/>
<line x1="525.85" y1="350.8" x2="525.85" y2="361.1" stroke="#26a69a" stroke-width="1.15" stroke-opacity="0.62"/>
<rect x="524.80" y="352.1" width="2.1" height="6.7" fill="#26a69a"/>
<line x1="529.56" y1="348.1" x2="529.56" y2="354.8" stroke="#ef5350" stroke-width="1.15" stroke-opacity="0.62"/>
<rect x="528.51" y="351.5" width="2.1" height="2.2" fill="#ef5350"/>
<line x1="533.27" y1="351.5" x2="533.27" y2="356.6" stroke="#ef5350" stroke-width="1.15" stroke-opacity="0.62"/>
<rect x="532.22" y="353.0" width="2.1" height="2.2" fill="#ef5350"/>
<line x1="536.97" y1="353.7" x2="536.97" y2="374.5" stroke="#ef5350" stroke-width="1.15" stroke-opacity="0.62"/>
<rect x="535.92" y="354.8" width="2.1" height="15.6" fill="#ef5350"/>
<line x1="540.68" y1="368.2" x2="540.68" y2="382.3" stroke="#ef5350" stroke-width="1.15" stroke-opacity="0.62"/>
<rect x="539.63" y="370.0" width="2.1" height="4.5" fill="#ef5350"/>
<line x1="544.39" y1="341.9" x2="544.39" y2="374.9" stroke="#26a69a" stroke-width="1.15" stroke-opacity="0.62"/>
<rect x="543.34" y="352.6" width="2.1" height="21.9" fill="#26a69a"/>
<line x1="548.09" y1="347.0" x2="548.09" y2="359.3" stroke="#ef5350" stroke-width="1.15" stroke-opacity="0.62"/>
<rect x="547.04" y="352.6" width="2.1" height="3.3" fill="#ef5350"/>
<line x1="551.80" y1="351.5" x2="551.80" y2="369.3" stroke="#ef5350" stroke-width="1.15" stroke-opacity="0.62"/>
<rect x="550.75" y="354.8" width="2.1" height="8.9" fill="#ef5350"/>
<line x1="555.51" y1="353.7" x2="555.51" y2="379.4" stroke="#26a69a" stroke-width="1.15" stroke-opacity="0.62"/>
<rect x="554.46" y="358.2" width="2.1" height="6.7" fill="#26a69a"/>
<line x1="559.21" y1="350.4" x2="559.21" y2="368.2" stroke="#ef5350" stroke-width="1.15" stroke-opacity="0.62"/>
<rect x="558.16" y="358.2" width="2.1" height="7.8" fill="#ef5350"/>
<line x1="562.92" y1="341.4" x2="562.92" y2="367.8" stroke="#26a69a" stroke-width="1.15" stroke-opacity="0.62"/>
<rect x="561.87" y="348.1" width="2.1" height="17.9" fill="#26a69a"/>
<line x1="566.63" y1="345.9" x2="566.63" y2="359.3" stroke="#ef5350" stroke-width="1.15" stroke-opacity="0.62"/>
<rect x="565.58" y="348.1" width="2.1" height="2.7" fill="#ef5350"/>
<line x1="570.33" y1="320.2" x2="570.33" y2="355.9" stroke="#26a69a" stroke-width="1.15" stroke-opacity="0.62"/>
<rect x="569.28" y="326.9" width="2.1" height="24.6" fill="#26a69a"/>
<line x1="574.04" y1="323.1" x2="574.04" y2="339.2" stroke="#ef5350" stroke-width="1.15" stroke-opacity="0.62"/>
<rect x="572.99" y="326.9" width="2.1" height="10.0" fill="#ef5350"/>
<line x1="577.75" y1="333.6" x2="577.75" y2="353.7" stroke="#ef5350" stroke-width="1.15" stroke-opacity="0.62"/>
<rect x="576.70" y="336.5" width="2.1" height="15.0" fill="#ef5350"/>
<line x1="581.45" y1="349.2" x2="581.45" y2="358.2" stroke="#ef5350" stroke-width="1.15" stroke-opacity="0.62"/>
<rect x="580.40" y="350.8" width="2.1" height="5.1" fill="#ef5350"/>
<line x1="585.16" y1="351.5" x2="585.16" y2="364.9" stroke="#ef5350" stroke-width="1.15" stroke-opacity="0.62"/>
<rect x="584.11" y="354.8" width="2.1" height="8.9" fill="#ef5350"/>
<line x1="588.87" y1="344.8" x2="588.87" y2="364.9" stroke="#26a69a" stroke-width="1.15" stroke-opacity="0.62"/>
<rect x="587.82" y="349.2" width="2.1" height="14.5" fill="#26a69a"/>
<line x1="592.57" y1="332.5" x2="592.57" y2="350.8" stroke="#26a69a" stroke-width="1.15" stroke-opacity="0.62"/>
<rect x="591.52" y="341.4" width="2.1" height="8.5" fill="#26a69a"/>
<line x1="596.28" y1="334.7" x2="596.28" y2="344.8" stroke="#26a69a" stroke-width="1.15" stroke-opacity="0.62"/>
<rect x="595.23" y="339.6" width="2.1" height="2.9" fill="#26a69a"/>
<line x1="599.99" y1="337.0" x2="599.99" y2="344.8" stroke="#26a69a" stroke-width="1.15" stroke-opacity="0.62"/>
<rect x="598.94" y="338.1" width="2.1" height="2.9" fill="#26a69a"/>
<line x1="603.69" y1="321.8" x2="603.69" y2="339.2" stroke="#26a69a" stroke-width="1.15" stroke-opacity="0.62"/>
<rect x="602.64" y="335.8" width="2.1" height="2.9" fill="#26a69a"/>
<line x1="607.40" y1="333.6" x2="607.40" y2="339.2" stroke="#26a69a" stroke-width="1.15" stroke-opacity="0.62"/>
<rect x="606.35" y="334.7" width="2.1" height="1.8" fill="#26a69a"/>
<line x1="611.11" y1="324.7" x2="611.11" y2="337.0" stroke="#26a69a" stroke-width="1.15" stroke-opacity="0.62"/>
<rect x="610.06" y="326.2" width="2.1" height="9.6" fill="#26a69a"/>
<line x1="614.82" y1="314.6" x2="614.82" y2="329.2" stroke="#26a69a" stroke-width="1.15" stroke-opacity="0.62"/>
<rect x="613.77" y="315.8" width="2.1" height="11.8" fill="#26a69a"/>
<line x1="618.52" y1="310.2" x2="618.52" y2="323.6" stroke="#ef5350" stroke-width="1.15" stroke-opacity="0.62"/>
<rect x="617.47" y="313.5" width="2.1" height="8.9" fill="#ef5350"/>
<line x1="622.23" y1="316.9" x2="622.23" y2="339.2" stroke="#ef5350" stroke-width="1.15" stroke-opacity="0.62"/>
<rect x="621.18" y="320.9" width="2.1" height="16.1" fill="#ef5350"/>
<line x1="625.94" y1="333.6" x2="625.94" y2="348.1" stroke="#ef5350" stroke-width="1.15" stroke-opacity="0.62"/>
<rect x="624.89" y="334.3" width="2.1" height="11.6" fill="#ef5350"/>
<line x1="629.64" y1="334.7" x2="629.64" y2="345.9" stroke="#26a69a" stroke-width="1.15" stroke-opacity="0.62"/>
<rect x="628.59" y="338.1" width="2.1" height="5.6" fill="#26a69a"/>
<line x1="633.35" y1="336.5" x2="633.35" y2="348.1" stroke="#ef5350" stroke-width="1.15" stroke-opacity="0.62"/>
<rect x="632.30" y="338.8" width="2.1" height="8.3" fill="#ef5350"/>
<line x1="637.06" y1="344.8" x2="637.06" y2="355.9" stroke="#ef5350" stroke-width="1.15" stroke-opacity="0.62"/>
<rect x="636.01" y="345.9" width="2.1" height="8.5" fill="#ef5350"/>
<line x1="640.76" y1="332.1" x2="640.76" y2="354.8" stroke="#26a69a" stroke-width="1.15" stroke-opacity="0.62"/>
<rect x="639.71" y="336.5" width="2.1" height="17.2" fill="#26a69a"/>
<line x1="644.47" y1="334.7" x2="644.47" y2="344.8" stroke="#26a69a" stroke-width="1.15" stroke-opacity="0.62"/>
<rect x="643.42" y="335.8" width="2.1" height="2.2" fill="#26a69a"/>
<line x1="648.18" y1="330.3" x2="648.18" y2="339.6" stroke="#26a69a" stroke-width="1.15" stroke-opacity="0.62"/>
<rect x="647.13" y="333.6" width="2.1" height="5.1" fill="#26a69a"/>
<line x1="651.88" y1="333.6" x2="651.88" y2="351.5" stroke="#ef5350" stroke-width="1.15" stroke-opacity="0.62"/>
<rect x="650.83" y="334.7" width="2.1" height="13.4" fill="#ef5350"/>
<line x1="655.59" y1="345.9" x2="655.59" y2="365.5" stroke="#ef5350" stroke-width="1.15" stroke-opacity="0.62"/>
<rect x="654.54" y="347.0" width="2.1" height="14.5" fill="#ef5350"/>
<line x1="659.30" y1="357.1" x2="659.30" y2="363.8" stroke="#ef5350" stroke-width="1.15" stroke-opacity="0.62"/>
<rect x="658.25" y="359.3" width="2.1" height="2.7" fill="#ef5350"/>
<line x1="663.00" y1="358.2" x2="663.00" y2="368.2" stroke="#ef5350" stroke-width="1.15" stroke-opacity="0.62"/>
<rect x="661.95" y="360.4" width="2.1" height="2.2" fill="#ef5350"/>
<line x1="666.71" y1="351.5" x2="666.71" y2="363.8" stroke="#26a69a" stroke-width="1.15" stroke-opacity="0.62"/>
<rect x="665.66" y="358.8" width="2.1" height="3.8" fill="#26a69a"/>
<line x1="670.42" y1="349.2" x2="670.42" y2="361.5" stroke="#26a69a" stroke-width="1.15" stroke-opacity="0.62"/>
<rect x="669.37" y="350.8" width="2.1" height="9.6" fill="#26a69a"/>
<line x1="674.12" y1="345.9" x2="674.12" y2="354.4" stroke="#ef5350" stroke-width="1.15" stroke-opacity="0.62"/>
<rect x="673.07" y="350.4" width="2.1" height="3.3" fill="#ef5350"/>
<line x1="677.83" y1="350.4" x2="677.83" y2="363.8" stroke="#ef5350" stroke-width="1.15" stroke-opacity="0.62"/>
<rect x="676.78" y="352.1" width="2.1" height="7.1" fill="#ef5350"/>
<line x1="681.54" y1="354.8" x2="681.54" y2="361.5" stroke="#26a69a" stroke-width="1.15" stroke-opacity="0.62"/>
<rect x="680.49" y="357.1" width="2.1" height="3.3" fill="#26a69a"/>
<line x1="685.24" y1="353.7" x2="685.24" y2="359.3" stroke="#26a69a" stroke-width="1.15" stroke-opacity="0.62"/>
<rect x="684.19" y="355.9" width="2.1" height="2.2" fill="#26a69a"/>
<line x1="688.95" y1="345.9" x2="688.95" y2="359.3" stroke="#26a69a" stroke-width="1.15" stroke-opacity="0.62"/>
<rect x="687.90" y="347.0" width="2.1" height="10.5" fill="#26a69a"/>
<line x1="692.66" y1="340.3" x2="692.66" y2="350.4" stroke="#ef5350" stroke-width="1.15" stroke-opacity="0.62"/>
<rect x="691.61" y="345.9" width="2.1" height="3.3" fill="#ef5350"/>
<line x1="696.36" y1="326.9" x2="696.36" y2="353.7" stroke="#26a69a" stroke-width="1.15" stroke-opacity="0.62"/>
<rect x="695.31" y="330.3" width="2.1" height="19.0" fill="#26a69a"/>
<line x1="700.07" y1="325.8" x2="700.07" y2="337.0" stroke="#26a69a" stroke-width="1.15" stroke-opacity="0.62"/>
<rect x="699.02" y="326.2" width="2.1" height="9.6" fill="#26a69a"/>
<line x1="703.78" y1="324.7" x2="703.78" y2="339.2" stroke="#26a69a" stroke-width="1.15" stroke-opacity="0.62"/>
<rect x="702.73" y="332.5" width="2.1" height="4.0" fill="#26a69a"/>
<line x1="707.49" y1="323.1" x2="707.49" y2="333.6" stroke="#26a69a" stroke-width="1.15" stroke-opacity="0.62"/>
<rect x="706.44" y="324.7" width="2.1" height="8.3" fill="#26a69a"/>
<line x1="711.19" y1="321.3" x2="711.19" y2="327.6" stroke="#26a69a" stroke-width="1.15" stroke-opacity="0.62"/>
<rect x="710.14" y="323.6" width="2.1" height="2.7" fill="#26a69a"/>
<line x1="714.90" y1="324.7" x2="714.90" y2="338.1" stroke="#ef5350" stroke-width="1.15" stroke-opacity="0.62"/>
<rect x="713.85" y="325.4" width="2.1" height="11.6" fill="#ef5350"/>
<line x1="718.61" y1="315.8" x2="718.61" y2="338.8" stroke="#26a69a" stroke-width="1.15" stroke-opacity="0.62"/>
<rect x="717.56" y="316.9" width="2.1" height="21.2" fill="#26a69a"/>
<line x1="722.31" y1="309.1" x2="722.31" y2="320.9" stroke="#ef5350" stroke-width="1.15" stroke-opacity="0.62"/>
<rect x="721.26" y="317.3" width="2.1" height="2.9" fill="#ef5350"/>
<line x1="726.02" y1="312.0" x2="726.02" y2="322.5" stroke="#26a69a" stroke-width="1.15" stroke-opacity="0.62"/>
<rect x="724.97" y="314.6" width="2.1" height="6.2" fill="#26a69a"/>
<line x1="729.73" y1="311.3" x2="729.73" y2="323.6" stroke="#26a69a" stroke-width="1.15" stroke-opacity="0.62"/>
<rect x="728.68" y="313.5" width="2.1" height="3.3" fill="#26a69a"/>
<line x1="733.43" y1="296.8" x2="733.43" y2="316.9" stroke="#26a69a" stroke-width="1.15" stroke-opacity="0.62"/>
<rect x="732.38" y="303.0" width="2.1" height="11.6" fill="#26a69a"/>
<line x1="737.14" y1="301.7" x2="737.14" y2="312.0" stroke="#ef5350" stroke-width="1.15" stroke-opacity="0.62"/>
<rect x="736.09" y="303.0" width="2.1" height="7.6" fill="#ef5350"/>
<line x1="740.85" y1="308.4" x2="740.85" y2="321.8" stroke="#ef5350" stroke-width="1.15" stroke-opacity="0.62"/>
<rect x="739.80" y="309.7" width="2.1" height="11.2" fill="#ef5350"/>
<line x1="744.55" y1="305.7" x2="744.55" y2="322.5" stroke="#26a69a" stroke-width="1.15" stroke-opacity="0.62"/>
<rect x="743.50" y="307.9" width="2.1" height="13.4" fill="#26a69a"/>
<line x1="748.26" y1="303.5" x2="748.26" y2="315.8" stroke="#26a69a" stroke-width="1.15" stroke-opacity="0.62"/>
<rect x="747.21" y="304.6" width="2.1" height="5.1" fill="#26a69a"/>
<line x1="751.97" y1="290.1" x2="751.97" y2="309.1" stroke="#26a69a" stroke-width="1.15" stroke-opacity="0.62"/>
<rect x="750.92" y="297.2" width="2.1" height="11.2" fill="#26a69a"/>
<line x1="755.67" y1="295.0" x2="755.67" y2="303.9" stroke="#ef5350" stroke-width="1.15" stroke-opacity="0.62"/>
<rect x="754.62" y="296.3" width="2.1" height="7.1" fill="#ef5350"/>
<line x1="759.38" y1="295.7" x2="759.38" y2="302.4" stroke="#ef5350" stroke-width="1.15" stroke-opacity="0.62"/>
<rect x="758.33" y="296.8" width="2.1" height="4.9" fill="#ef5350"/>
<line x1="763.09" y1="297.2" x2="763.09" y2="302.4" stroke="#26a69a" stroke-width="1.15" stroke-opacity="0.62"/>
<rect x="762.04" y="298.6" width="2.1" height="2.7" fill="#26a69a"/>
<line x1="766.79" y1="293.4" x2="766.79" y2="301.7" stroke="#26a69a" stroke-width="1.15" stroke-opacity="0.62"/>
<rect x="765.74" y="295.0" width="2.1" height="5.8" fill="#26a69a"/>
<line x1="770.50" y1="290.8" x2="770.50" y2="301.7" stroke="#ef5350" stroke-width="1.15" stroke-opacity="0.62"/>
<rect x="769.45" y="295.3" width="2.1" height="3.1" fill="#ef5350"/>
</g>
<path d="M6.7,105.8 C8.6,105.5 14.1,104.4 17.9,103.6 C21.6,102.8 24.6,101.3 29.0,100.9 C33.5,100.6 39.1,101.0 44.6,101.4 C50.2,101.7 56.5,102.6 62.5,102.9 C68.5,103.2 74.4,103.3 80.4,103.2 C86.3,103.0 93.0,102.0 98.2,102.1 C103.4,102.1 107.5,102.9 111.6,103.6 C115.7,104.3 119.0,105.2 122.8,106.3 C126.5,107.4 130.2,109.0 133.9,110.3 C137.6,111.6 141.4,112.9 145.1,114.1 C148.8,115.3 152.2,115.9 156.2,117.5 C160.3,119.1 165.8,121.6 169.6,123.7 C173.4,125.8 176.0,127.6 179.0,130.0 C182.1,132.4 185.0,134.7 187.9,137.8 C190.9,141.0 193.9,145.6 196.9,149.0 C199.9,152.3 202.8,155.1 205.8,157.9 C208.8,160.7 211.4,163.3 214.7,165.7 C218.1,168.1 222.5,170.4 225.9,172.4 C229.2,174.5 231.5,176.1 234.8,178.0 C238.2,179.9 242.3,181.6 246.0,183.6 C249.7,185.5 253.4,187.9 257.1,189.8 C260.9,191.8 265.0,193.2 268.3,195.2 C271.7,197.2 274.3,199.6 277.2,201.9 C280.2,204.1 283.2,206.5 286.2,208.6 C289.1,210.7 291.7,212.4 295.1,214.4 C298.4,216.3 302.5,218.5 306.2,220.4 C310.0,222.3 313.7,223.8 317.4,225.5 C321.1,227.3 325.0,229.4 328.6,230.9 C332.2,232.4 335.7,233.8 338.9,234.8 C342.1,235.8 344.9,236.5 347.9,237.0 C350.8,237.5 353.8,237.7 356.8,237.7 C359.8,237.7 362.7,237.3 365.7,237.0 C368.7,236.7 371.3,236.5 374.6,235.9 C378.0,235.3 382.1,234.3 385.8,233.7 C389.5,233.0 393.2,232.5 397.0,232.1 C400.7,231.7 404.4,231.5 408.1,231.4 C411.8,231.4 415.6,231.7 419.3,231.9 C423.0,232.1 426.7,232.3 430.4,232.5 C434.2,232.8 438.3,232.7 441.6,233.2 C445.0,233.8 447.6,235.0 450.5,235.9 C453.5,236.8 456.5,237.5 459.5,238.6 C462.4,239.7 465.4,241.1 468.4,242.6 C471.4,244.1 474.3,245.8 477.3,247.5 C480.3,249.2 482.9,250.7 486.2,252.6 C489.6,254.6 493.7,257.1 497.4,259.3 C501.1,261.6 505.5,264.2 508.6,266.0 C511.7,267.8 513.2,268.6 515.9,270.0 C518.6,271.4 521.8,272.8 524.8,274.5 C527.8,276.1 530.8,277.8 533.8,280.0 C536.7,282.3 539.7,285.4 542.7,287.9 C545.7,290.3 548.6,292.8 551.6,295.0 C554.6,297.2 557.6,299.1 560.5,301.2 C563.5,303.4 566.5,305.7 569.5,307.9 C572.4,310.2 575.4,312.4 578.4,314.6 C581.4,316.9 584.3,319.3 587.3,321.3 C590.3,323.4 593.3,325.2 596.2,326.9 C599.2,328.6 602.2,330.0 605.2,331.4 C608.2,332.8 611.6,334.2 614.1,335.2 C616.6,336.1 617.5,335.8 620.0,337.0 C622.5,338.1 626.0,340.6 628.9,341.9 C631.9,343.2 634.9,344.0 637.9,344.8 C640.8,345.6 643.8,346.1 646.8,346.6 C649.8,347.0 652.7,347.4 655.7,347.7 C658.7,347.9 661.3,348.0 664.6,348.1 C668.0,348.3 672.1,348.5 675.8,348.6 C679.5,348.7 683.2,348.8 687.0,348.8 C690.7,348.8 694.4,348.9 698.1,348.6 C701.8,348.2 705.6,347.4 709.3,346.6 C713.0,345.7 716.7,344.6 720.4,343.7 C724.2,342.7 727.9,341.9 731.6,341.0 C735.3,340.1 739.0,338.9 742.8,338.1 C746.5,337.2 750.6,336.5 753.9,335.8 C757.3,335.2 760.0,334.8 762.9,334.1 C765.8,333.4 769.9,332.0 771.3,331.6" fill="none" stroke="#f23645" stroke-width="2.05" stroke-linejoin="round" stroke-linecap="round" clip-path="url(#cm)"/>
<path d="M6.7,98.0 C8.4,96.4 13.1,91.0 16.7,88.0 C20.4,84.9 25.4,80.0 28.6,79.7 C31.7,79.4 33.0,84.7 35.7,86.2 C38.4,87.7 41.7,87.2 44.6,88.7 C47.6,90.1 50.6,92.0 53.6,94.7 C56.5,97.4 59.5,102.0 62.5,104.7 C65.5,107.4 68.5,109.2 71.4,111.0 C74.4,112.8 77.4,114.6 80.4,115.4 C83.3,116.3 86.3,116.4 89.3,115.9 C92.3,115.4 95.2,112.5 98.2,112.5 C101.2,112.5 103.8,114.9 107.1,115.9 C110.5,116.9 115.8,117.5 118.3,118.6 C120.8,119.6 120.0,119.8 122.3,122.2 C124.6,124.6 129.4,130.0 132.4,132.8 C135.4,135.6 137.8,137.7 140.2,139.0 C142.6,140.3 144.3,139.4 146.9,140.4 C149.5,141.4 153.2,142.9 155.8,145.1 C158.4,147.3 159.9,150.1 162.5,153.5 C165.1,156.9 168.4,161.7 171.4,165.8 C174.4,169.9 177.6,173.7 180.4,178.0 C183.2,182.3 185.6,187.3 187.9,191.4 C190.3,195.5 192.0,199.1 194.6,202.5 C197.2,206.0 200.6,209.9 203.6,212.1 C206.5,214.4 209.5,214.8 212.5,215.9 C215.5,217.1 219.0,217.8 221.4,218.8 C223.8,219.8 224.8,221.4 227.0,222.0 C229.2,222.5 232.0,221.5 234.8,222.0 C237.6,222.4 240.8,224.3 243.8,224.9 C246.7,225.5 249.7,225.5 252.7,225.5 C255.7,225.5 258.6,224.8 261.6,224.9 C264.6,224.9 267.6,225.0 270.5,226.0 C273.5,227.0 276.5,229.2 279.5,230.9 C282.4,232.6 285.4,235.0 288.4,236.0 C291.4,237.1 294.3,236.7 297.3,237.1 C300.3,237.6 303.3,238.2 306.2,238.7 C309.2,239.2 312.2,239.7 315.2,240.0 C318.2,240.4 321.1,240.7 324.1,240.9 C327.1,241.2 330.6,241.4 333.0,241.6 C335.5,241.8 336.5,242.5 338.9,242.1 C341.4,241.7 344.9,240.6 347.9,239.2 C350.8,237.9 353.8,235.2 356.8,234.1 C359.8,233.0 362.7,232.9 365.7,232.5 C368.7,232.2 372.0,232.1 374.6,231.9 C377.2,231.6 379.1,232.2 381.3,231.0 C383.6,229.8 385.4,226.5 388.0,224.7 C390.6,222.9 394.2,221.2 397.0,220.3 C399.8,219.3 402.5,219.1 404.8,219.2 C407.0,219.2 407.9,219.8 410.4,220.7 C412.8,221.6 416.3,223.5 419.3,224.7 C422.3,226.0 425.2,227.0 428.2,228.1 C431.2,229.1 434.7,230.2 437.1,231.0 C439.6,231.7 440.9,231.0 442.7,232.5 C444.6,234.1 446.3,237.6 448.3,240.4 C450.3,243.1 452.8,246.5 455.0,249.3 C457.2,252.1 459.8,254.5 461.7,257.1 C463.6,259.7 464.8,261.5 466.2,264.9 C467.6,268.4 468.4,274.2 470.1,277.8 C471.9,281.5 474.4,283.6 476.8,286.7 C479.2,289.9 481.9,293.1 484.6,296.8 C487.4,300.5 491.0,305.8 493.6,309.1 C496.2,312.3 497.7,313.8 500.3,316.4 C502.9,319.0 506.2,322.2 509.2,324.7 C512.2,327.2 514.8,329.3 518.1,331.4 C521.5,333.4 525.9,335.0 529.3,337.0 C532.6,338.9 535.2,341.6 538.2,343.2 C541.2,344.8 544.2,345.6 547.1,346.6 C550.1,347.6 553.7,348.7 556.1,349.2 C558.5,349.8 559.8,350.0 561.7,349.9 C563.5,349.8 565.2,349.1 567.2,348.6 C569.3,348.1 571.7,347.1 573.9,347.0 C576.2,346.9 578.4,347.8 580.6,348.1 C582.9,348.5 584.7,349.3 587.3,349.2 C589.9,349.2 593.3,348.4 596.2,347.7 C599.2,346.9 602.6,345.8 605.2,344.8 C607.8,343.7 609.6,342.5 611.9,341.4 C614.1,340.4 616.3,339.0 618.6,338.5 C620.8,338.1 623.5,338.5 625.3,338.8 C627.0,339.0 626.8,339.9 628.9,340.3 C631.0,340.8 634.9,341.5 637.9,341.4 C640.8,341.3 644.2,339.6 646.8,339.6 C649.4,339.6 651.2,340.6 653.5,341.4 C655.7,342.3 657.6,343.7 660.2,344.8 C662.8,345.9 666.1,347.3 669.1,348.1 C672.1,349.0 675.2,349.5 678.0,349.9 C680.8,350.4 683.2,350.9 685.8,350.8 C688.5,350.7 690.9,350.1 693.7,349.2 C696.5,348.4 699.6,347.2 702.6,345.9 C705.6,344.6 708.5,342.9 711.5,341.4 C714.5,339.9 717.5,338.5 720.4,337.0 C723.4,335.5 726.4,333.9 729.4,332.5 C732.4,331.1 735.3,329.8 738.3,328.5 C741.3,327.2 744.3,326.3 747.2,324.7 C750.2,323.1 753.2,320.4 756.2,318.7 C759.1,316.9 762.6,315.3 765.1,314.2 C767.6,313.1 770.3,312.3 771.3,312.0" fill="none" stroke="#2962ff" stroke-width="2.05" stroke-linejoin="round" stroke-linecap="round" clip-path="url(#cm)"/>
<line x1="470.1" y1="396.1" x2="805" y2="349.9" stroke="#173a85" stroke-width="2"/>
<path d="M558.1,386 L566.6,397.5 L566.6,408.2 Q566.6,413.2 571.6,413.2 L619.9,413.2 Q624.9,413.2 624.9,408.2 L624.9,396.1 Q624.9,391.1 619.9,391.1 L571.5,391.1 Z" fill="#fff" stroke="#b8313d" stroke-width="1.3" stroke-linejoin="round"/>
<text x="574.1" y="404.7" font-size="9" fill="#b8313d" text-anchor="start" font-weight="normal" textLength="43.3" lengthAdjust="spacingAndGlyphs" stroke="#b8313d" stroke-width="0.25">Support line</text>
<g transform="translate(770.7,408)"><circle r="6.7" fill="#fff" stroke="#9c27b0" stroke-width="1.05"/><path d="M1,-4 L-2.6,0.8 L-0.2,0.8 L-1,4 L2.6,-0.8 L0.2,-0.8 Z" fill="#9c27b0"/><circle cx="4.6" cy="-4.6" r="2.7" fill="#fff"/><circle cx="4.6" cy="-4.6" r="1.9" fill="#f01d30"/></g>
<text x="11.9" y="30.8" font-size="9" fill="#131722" text-anchor="start" font-weight="normal" textLength="118.4" lengthAdjust="spacingAndGlyphs" >Bitcoin / TetherUS · 1D · Binance</text>
<text x="135.6" y="30.8" font-size="9" textLength="40.7" lengthAdjust="spacingAndGlyphs"><tspan fill="#131722">O</tspan><tspan fill="#ef5350">78,657.55</tspan></text>
<text x="181" y="30.8" font-size="9" textLength="39.6" lengthAdjust="spacingAndGlyphs"><tspan fill="#131722">H</tspan><tspan fill="#ef5350">79,485.66</tspan></text>
<text x="226.3" y="30.8" font-size="9" textLength="38.4" lengthAdjust="spacingAndGlyphs"><tspan fill="#131722">L</tspan><tspan fill="#ef5350">77,465.05</tspan></text>
<text x="270" y="30.8" font-size="9" textLength="39.0" lengthAdjust="spacingAndGlyphs"><tspan fill="#131722">C</tspan><tspan fill="#ef5350">78,078.42</tspan></text>
<text x="315.3" y="30.8" font-size="9" fill="#ef5350" text-anchor="start" font-weight="normal" textLength="60.3" lengthAdjust="spacingAndGlyphs" >−579.13 (−0.74%)</text>
<text x="11.9" y="42.1" font-size="9" fill="#131722" text-anchor="start" font-weight="normal" textLength="54.6" lengthAdjust="spacingAndGlyphs" >EMA (20, close)</text>
<text x="71.8" y="42.1" font-size="9" fill="#2962ff" text-anchor="start" font-weight="normal" textLength="34.9" lengthAdjust="spacingAndGlyphs" >75,389.19</text>
<text x="11.9" y="53.0" font-size="9" fill="#131722" text-anchor="start" font-weight="normal" textLength="54.6" lengthAdjust="spacingAndGlyphs" >SMA (50, close)</text>
<text x="71.8" y="53.0" font-size="9" fill="#f23645" text-anchor="start" font-weight="normal" textLength="34.5" lengthAdjust="spacingAndGlyphs" >71,820.29</text>
<text x="12.3" y="429.5" font-size="9" fill="#131722" text-anchor="start" font-weight="normal" textLength="49.7" lengthAdjust="spacingAndGlyphs" >RSI (14, close)</text>
<text x="67.6" y="429.5" font-size="9" fill="#7e57c2" text-anchor="start" font-weight="normal" textLength="19.4" lengthAdjust="spacingAndGlyphs" >62.67</text>
<text x="92.0" y="429.5" font-size="9" fill="#f5c518" text-anchor="start" font-weight="normal" textLength="20.0" lengthAdjust="spacingAndGlyphs" >62.64</text>
<path d="M6.9,431.2 L10.6,429.8 L14.3,427.2 L18.0,425.4 L21.7,447.2 L25.4,440.1 L29.1,451.7 L32.8,488.5 L36.6,495.2 L40.3,477.4 L44.0,476.7 L47.7,484.1 L51.4,490.8 L55.1,498.6 L58.8,503.1 L62.5,498.6 L66.2,491.9 L69.9,484.1 L73.6,491.4 L77.3,493.7 L81.0,481.8 L84.7,478.1 L88.4,474.5 L92.2,462.4 L95.9,464.0 L99.6,470.7 L103.3,481.8 L107.0,488.5 L110.7,484.1 L114.4,479.6 L118.1,477.8 L121.8,493.0 L125.5,508.6 L129.2,496.8 L132.9,503.5 L136.6,494.1 L140.3,496.8 L144.1,486.3 L147.8,480.7 L151.5,491.4 L155.2,495.9 L158.9,501.9 L162.6,513.1 L166.3,508.0 L170.0,510.9 L173.7,515.8 L177.4,512.0 L181.1,515.3 L184.8,525.4 L188.5,527.6 L192.2,528.7 L195.9,516.4 L199.7,508.0 L203.4,510.9 L207.1,494.1 L210.8,489.7 L214.5,491.4 L218.2,491.9 L221.9,493.7 L225.6,507.5 L229.3,481.8 L233.0,473.4 L236.7,478.9 L240.4,487.4 L244.1,487.9 L247.8,482.5 L251.5,481.2 L255.3,471.8 L259.0,474.5 L262.7,472.9 L266.4,482.5 L270.1,483.0 L273.8,491.9 L277.5,498.1 L281.2,489.7 L284.9,495.9 L288.6,499.0 L292.3,483.4 L296.0,482.1 L299.7,480.7 L303.4,480.7 L307.2,487.0 L310.9,485.2 L314.6,487.9 L318.3,485.6 L322.0,482.5 L325.7,481.8 L329.4,487.0 L333.1,475.8 L336.8,481.8 L340.5,471.8 L344.2,463.3 L347.9,458.4 L351.6,452.8 L355.3,439.0 L359.0,440.1 L362.8,461.8 L366.5,464.0 L370.2,467.8 L373.9,468.5 L377.6,464.0 L381.3,461.8 L385.0,436.5 L388.7,429.4 L392.4,441.7 L396.1,442.8 L399.8,446.1 L403.5,459.5 L407.2,467.8 L410.9,493.0 L414.6,486.3 L418.4,484.8 L422.1,484.8 L425.8,487.4 L429.5,500.8 L433.2,489.7 L436.9,481.2 L440.6,480.7 L444.3,504.2 L448.0,505.7 L451.7,523.6 L455.4,527.6 L459.1,515.3 L462.8,522.7 L466.5,528.1 L470.2,542.8 L474.0,507.5 L477.7,509.8 L481.4,506.0 L485.1,506.4 L488.8,509.3 L492.5,512.7 L496.2,514.7 L499.9,502.6 L503.6,497.9 L507.3,500.4 L511.0,500.2 L514.7,503.7 L518.4,506.8 L522.1,502.6 L525.9,498.1 L529.6,497.9 L533.3,499.7 L537.0,510.2 L540.7,512.0 L544.4,487.4 L548.1,489.7 L551.8,495.2 L555.5,489.2 L559.2,493.7 L562.9,476.9 L566.6,478.9 L570.3,459.1 L574.0,469.6 L577.7,479.6 L581.5,483.0 L585.2,487.9 L588.9,476.3 L592.6,469.1 L596.3,468.0 L600.0,465.6 L603.7,464.0 L607.4,462.9 L611.1,453.9 L614.8,445.5 L618.5,453.9 L622.2,469.6 L625.9,475.2 L629.6,471.8 L633.3,478.9 L637.1,485.2 L640.8,467.8 L644.5,470.0 L648.2,465.6 L651.9,477.4 L655.6,489.7 L659.3,490.1 L663.0,491.9 L666.7,487.0 L670.4,476.7 L674.1,477.8 L677.8,484.8 L681.5,484.1 L685.2,481.8 L689.0,469.6 L692.7,470.7 L696.4,451.7 L700.1,457.7 L703.8,453.9 L707.5,448.4 L711.2,447.7 L714.9,465.6 L718.6,446.1 L722.3,449.0 L726.0,445.5 L729.7,443.9 L733.4,435.0 L737.1,446.1 L740.8,460.0 L744.6,449.9 L748.3,446.8 L752.0,439.0 L755.7,439.0 L759.4,445.5 L763.1,444.6 L766.8,439.4 L770.5,445.0 L770.5,513.5 L6.9,513.5 Z" fill="url(#gos)" clip-path="url(#below30)"/>
<path d="M6.9,431.2 L10.6,429.8 L14.3,427.2 L18.0,425.4 L21.7,447.2 L25.4,440.1 L29.1,451.7 L32.8,488.5 L36.6,495.2 L40.3,477.4 L44.0,476.7 L47.7,484.1 L51.4,490.8 L55.1,498.6 L58.8,503.1 L62.5,498.6 L66.2,491.9 L69.9,484.1 L73.6,491.4 L77.3,493.7 L81.0,481.8 L84.7,478.1 L88.4,474.5 L92.2,462.4 L95.9,464.0 L99.6,470.7 L103.3,481.8 L107.0,488.5 L110.7,484.1 L114.4,479.6 L118.1,477.8 L121.8,493.0 L125.5,508.6 L129.2,496.8 L132.9,503.5 L136.6,494.1 L140.3,496.8 L144.1,486.3 L147.8,480.7 L151.5,491.4 L155.2,495.9 L158.9,501.9 L162.6,513.1 L166.3,508.0 L170.0,510.9 L173.7,515.8 L177.4,512.0 L181.1,515.3 L184.8,525.4 L188.5,527.6 L192.2,528.7 L195.9,516.4 L199.7,508.0 L203.4,510.9 L207.1,494.1 L210.8,489.7 L214.5,491.4 L218.2,491.9 L221.9,493.7 L225.6,507.5 L229.3,481.8 L233.0,473.4 L236.7,478.9 L240.4,487.4 L244.1,487.9 L247.8,482.5 L251.5,481.2 L255.3,471.8 L259.0,474.5 L262.7,472.9 L266.4,482.5 L270.1,483.0 L273.8,491.9 L277.5,498.1 L281.2,489.7 L284.9,495.9 L288.6,499.0 L292.3,483.4 L296.0,482.1 L299.7,480.7 L303.4,480.7 L307.2,487.0 L310.9,485.2 L314.6,487.9 L318.3,485.6 L322.0,482.5 L325.7,481.8 L329.4,487.0 L333.1,475.8 L336.8,481.8 L340.5,471.8 L344.2,463.3 L347.9,458.4 L351.6,452.8 L355.3,439.0 L359.0,440.1 L362.8,461.8 L366.5,464.0 L370.2,467.8 L373.9,468.5 L377.6,464.0 L381.3,461.8 L385.0,436.5 L388.7,429.4 L392.4,441.7 L396.1,442.8 L399.8,446.1 L403.5,459.5 L407.2,467.8 L410.9,493.0 L414.6,486.3 L418.4,484.8 L422.1,484.8 L425.8,487.4 L429.5,500.8 L433.2,489.7 L436.9,481.2 L440.6,480.7 L444.3,504.2 L448.0,505.7 L451.7,523.6 L455.4,527.6 L459.1,515.3 L462.8,522.7 L466.5,528.1 L470.2,542.8 L474.0,507.5 L477.7,509.8 L481.4,506.0 L485.1,506.4 L488.8,509.3 L492.5,512.7 L496.2,514.7 L499.9,502.6 L503.6,497.9 L507.3,500.4 L511.0,500.2 L514.7,503.7 L518.4,506.8 L522.1,502.6 L525.9,498.1 L529.6,497.9 L533.3,499.7 L537.0,510.2 L540.7,512.0 L544.4,487.4 L548.1,489.7 L551.8,495.2 L555.5,489.2 L559.2,493.7 L562.9,476.9 L566.6,478.9 L570.3,459.1 L574.0,469.6 L577.7,479.6 L581.5,483.0 L585.2,487.9 L588.9,476.3 L592.6,469.1 L596.3,468.0 L600.0,465.6 L603.7,464.0 L607.4,462.9 L611.1,453.9 L614.8,445.5 L618.5,453.9 L622.2,469.6 L625.9,475.2 L629.6,471.8 L633.3,478.9 L637.1,485.2 L640.8,467.8 L644.5,470.0 L648.2,465.6 L651.9,477.4 L655.6,489.7 L659.3,490.1 L663.0,491.9 L666.7,487.0 L670.4,476.7 L674.1,477.8 L677.8,484.8 L681.5,484.1 L685.2,481.8 L689.0,469.6 L692.7,470.7 L696.4,451.7 L700.1,457.7 L703.8,453.9 L707.5,448.4 L711.2,447.7 L714.9,465.6 L718.6,446.1 L722.3,449.0 L726.0,445.5 L729.7,443.9 L733.4,435.0 L737.1,446.1 L740.8,460.0 L744.6,449.9 L748.3,446.8 L752.0,439.0 L755.7,439.0 L759.4,445.5 L763.1,444.6 L766.8,439.4 L770.5,445.0 L770.5,429.7 L6.9,429.7 Z" fill="url(#gob)" clip-path="url(#above70)"/>
<path d="M6.7,470.2 C7.8,469.4 10.8,467.3 13.4,465.1 C16.0,462.9 19.7,459.5 22.3,457.3 C24.9,455.1 26.4,453.2 29.0,452.2 C31.6,451.2 35.0,451.0 37.9,451.3 C40.9,451.6 44.3,452.6 46.9,453.9 C49.5,455.3 51.3,457.1 53.6,459.5 C55.8,461.9 58.0,465.5 60.3,468.5 C62.5,471.4 64.7,474.8 67.0,477.4 C69.2,480.0 71.4,482.1 73.7,484.1 C75.9,486.1 77.8,488.7 80.4,489.2 C83.0,489.8 86.3,488.1 89.3,487.4 C92.3,486.8 95.2,485.9 98.2,485.2 C101.2,484.5 104.2,483.9 107.1,483.0 C110.1,482.0 113.1,479.9 116.1,479.6 C119.0,479.3 122.0,480.6 125.0,481.2 C128.0,481.7 131.0,482.1 133.9,483.0 C136.9,483.8 139.9,485.1 142.9,486.3 C145.8,487.5 148.8,489.2 151.8,490.3 C154.8,491.4 157.7,491.6 160.7,493.0 C163.7,494.4 166.7,497.3 169.6,498.6 C172.6,499.9 175.6,499.7 178.6,500.8 C181.5,501.9 184.5,503.6 187.5,505.3 C190.5,507.0 194.3,509.8 196.4,510.9 C198.5,512.0 198.5,511.5 200.0,512.0 C201.5,512.4 203.3,513.7 205.6,513.5 C207.8,513.4 210.2,511.9 213.4,510.9 C216.6,509.9 221.2,509.2 224.6,507.5 C227.9,505.8 230.1,503.2 233.5,500.8 C236.8,498.4 240.9,495.4 244.6,493.0 C248.4,490.6 252.1,488.0 255.8,486.3 C259.5,484.6 263.4,483.7 267.0,483.0 C270.5,482.3 273.3,481.6 277.0,482.1 C280.7,482.5 285.4,485.2 289.3,485.6 C293.2,486.1 296.7,484.5 300.4,484.8 C304.2,485.0 308.3,486.5 311.6,487.0 C315.0,487.5 317.6,488.0 320.5,487.9 C323.5,487.8 326.5,487.1 329.5,486.3 C332.4,485.5 335.4,484.3 338.4,483.0 C341.4,481.7 344.3,480.3 347.3,478.5 C350.3,476.7 353.3,473.9 356.2,472.2 C359.2,470.6 362.2,469.6 365.2,468.5 C368.2,467.3 371.1,466.9 374.1,465.6 C377.1,464.3 380.4,462.4 383.0,460.6 C385.6,458.9 387.5,456.6 389.7,455.1 C392.0,453.6 394.7,452.4 396.4,451.7 C398.1,451.0 397.9,450.3 400.0,451.0 C402.1,451.8 406.0,454.6 408.9,456.2 C411.9,457.8 414.9,459.3 417.9,460.6 C420.8,461.9 423.8,462.5 426.8,464.0 C429.8,465.5 432.7,467.0 435.7,469.6 C438.7,472.2 441.7,475.9 444.6,479.6 C447.6,483.3 450.6,488.4 453.6,491.9 C456.5,495.4 459.5,497.8 462.5,500.4 C465.5,502.9 468.5,505.5 471.4,507.1 C474.4,508.6 477.4,508.6 480.4,509.8 C483.3,510.9 486.7,512.7 489.3,513.8 C491.9,514.9 494.1,516.1 496.0,516.4 C497.8,516.8 498.6,516.6 500.4,516.0 C502.3,515.4 504.5,514.1 507.1,513.1 C509.7,512.1 513.1,511.1 516.1,509.8 C519.0,508.4 522.0,506.2 525.0,505.3 C528.0,504.4 531.3,504.4 533.9,504.2 C536.5,504.0 538.4,504.6 540.6,504.2 C542.9,503.7 544.7,502.2 547.3,501.5 C549.9,500.7 553.3,500.6 556.2,499.7 C559.2,498.8 562.2,497.6 565.2,495.9 C568.2,494.2 571.1,491.3 574.1,489.7 C577.1,488.1 580.1,487.8 583.0,486.3 C586.0,484.8 589.1,482.2 592.0,480.7 C594.8,479.2 597.2,478.7 600.0,477.4 C602.8,476.1 606.0,474.5 608.9,472.9 C611.9,471.3 614.9,468.5 617.9,467.8 C620.8,467.0 623.8,468.5 626.8,468.5 C629.8,468.5 632.7,468.0 635.7,467.8 C638.7,467.5 642.0,466.9 644.6,466.9 C647.2,466.9 648.7,467.0 651.3,467.8 C653.9,468.6 657.3,470.2 660.3,471.8 C663.2,473.4 666.2,476.0 669.2,477.4 C672.2,478.8 675.1,479.7 678.1,480.3 C681.1,480.8 684.1,480.8 687.1,480.7 C690.0,480.6 693.4,480.2 696.0,479.6 C698.6,479.1 700.1,478.9 702.7,477.4 C705.3,475.9 708.6,472.7 711.6,470.7 C714.6,468.6 717.6,467.2 720.5,465.1 C723.5,463.1 726.5,460.6 729.5,458.4 C732.4,456.2 735.4,453.3 738.4,451.7 C741.4,450.2 744.3,449.8 747.3,449.0 C750.3,448.3 753.3,447.8 756.2,447.2 C759.2,446.7 762.7,446.1 765.2,445.7 C767.7,445.3 770.2,445.1 771.2,445.0" fill="none" stroke="#fbd13f" stroke-width="1.25" clip-path="url(#cr)"/>
<path d="M6.9,431.2 L10.6,429.8 L14.3,427.2 L18.0,425.4 L21.7,447.2 L25.4,440.1 L29.1,451.7 L32.8,488.5 L36.6,495.2 L40.3,477.4 L44.0,476.7 L47.7,484.1 L51.4,490.8 L55.1,498.6 L58.8,503.1 L62.5,498.6 L66.2,491.9 L69.9,484.1 L73.6,491.4 L77.3,493.7 L81.0,481.8 L84.7,478.1 L88.4,474.5 L92.2,462.4 L95.9,464.0 L99.6,470.7 L103.3,481.8 L107.0,488.5 L110.7,484.1 L114.4,479.6 L118.1,477.8 L121.8,493.0 L125.5,508.6 L129.2,496.8 L132.9,503.5 L136.6,494.1 L140.3,496.8 L144.1,486.3 L147.8,480.7 L151.5,491.4 L155.2,495.9 L158.9,501.9 L162.6,513.1 L166.3,508.0 L170.0,510.9 L173.7,515.8 L177.4,512.0 L181.1,515.3 L184.8,525.4 L188.5,527.6 L192.2,528.7 L195.9,516.4 L199.7,508.0 L203.4,510.9 L207.1,494.1 L210.8,489.7 L214.5,491.4 L218.2,491.9 L221.9,493.7 L225.6,507.5 L229.3,481.8 L233.0,473.4 L236.7,478.9 L240.4,487.4 L244.1,487.9 L247.8,482.5 L251.5,481.2 L255.3,471.8 L259.0,474.5 L262.7,472.9 L266.4,482.5 L270.1,483.0 L273.8,491.9 L277.5,498.1 L281.2,489.7 L284.9,495.9 L288.6,499.0 L292.3,483.4 L296.0,482.1 L299.7,480.7 L303.4,480.7 L307.2,487.0 L310.9,485.2 L314.6,487.9 L318.3,485.6 L322.0,482.5 L325.7,481.8 L329.4,487.0 L333.1,475.8 L336.8,481.8 L340.5,471.8 L344.2,463.3 L347.9,458.4 L351.6,452.8 L355.3,439.0 L359.0,440.1 L362.8,461.8 L366.5,464.0 L370.2,467.8 L373.9,468.5 L377.6,464.0 L381.3,461.8 L385.0,436.5 L388.7,429.4 L392.4,441.7 L396.1,442.8 L399.8,446.1 L403.5,459.5 L407.2,467.8 L410.9,493.0 L414.6,486.3 L418.4,484.8 L422.1,484.8 L425.8,487.4 L429.5,500.8 L433.2,489.7 L436.9,481.2 L440.6,480.7 L444.3,504.2 L448.0,505.7 L451.7,523.6 L455.4,527.6 L459.1,515.3 L462.8,522.7 L466.5,528.1 L470.2,542.8 L474.0,507.5 L477.7,509.8 L481.4,506.0 L485.1,506.4 L488.8,509.3 L492.5,512.7 L496.2,514.7 L499.9,502.6 L503.6,497.9 L507.3,500.4 L511.0,500.2 L514.7,503.7 L518.4,506.8 L522.1,502.6 L525.9,498.1 L529.6,497.9 L533.3,499.7 L537.0,510.2 L540.7,512.0 L544.4,487.4 L548.1,489.7 L551.8,495.2 L555.5,489.2 L559.2,493.7 L562.9,476.9 L566.6,478.9 L570.3,459.1 L574.0,469.6 L577.7,479.6 L581.5,483.0 L585.2,487.9 L588.9,476.3 L592.6,469.1 L596.3,468.0 L600.0,465.6 L603.7,464.0 L607.4,462.9 L611.1,453.9 L614.8,445.5 L618.5,453.9 L622.2,469.6 L625.9,475.2 L629.6,471.8 L633.3,478.9 L637.1,485.2 L640.8,467.8 L644.5,470.0 L648.2,465.6 L651.9,477.4 L655.6,489.7 L659.3,490.1 L663.0,491.9 L666.7,487.0 L670.4,476.7 L674.1,477.8 L677.8,484.8 L681.5,484.1 L685.2,481.8 L689.0,469.6 L692.7,470.7 L696.4,451.7 L700.1,457.7 L703.8,453.9 L707.5,448.4 L711.2,447.7 L714.9,465.6 L718.6,446.1 L722.3,449.0 L726.0,445.5 L729.7,443.9 L733.4,435.0 L737.1,446.1 L740.8,460.0 L744.6,449.9 L748.3,446.8 L752.0,439.0 L755.7,439.0 L759.4,445.5 L763.1,444.6 L766.8,439.4 L770.5,445.0" fill="none" stroke="#7e57c2" stroke-width="2.2" stroke-linejoin="round" stroke-linecap="round" clip-path="url(#cr)"/>
<text x="844.0" y="398.6" font-size="8.6" fill="#131722" text-anchor="start" font-weight="normal" textLength="35.3" lengthAdjust="spacingAndGlyphs" >60,000.00</text>
<text x="844.0" y="377.0" font-size="8.6" fill="#131722" text-anchor="start" font-weight="normal" textLength="35.3" lengthAdjust="spacingAndGlyphs" >64,000.00</text>
<text x="844.0" y="290.3" font-size="8.6" fill="#131722" text-anchor="start" font-weight="normal" textLength="35.3" lengthAdjust="spacingAndGlyphs" >80,000.00</text>
<text x="844.0" y="268.6" font-size="8.6" fill="#131722" text-anchor="start" font-weight="normal" textLength="35.3" lengthAdjust="spacingAndGlyphs" >84,000.00</text>
<text x="844.0" y="247.0" font-size="8.6" fill="#131722" text-anchor="start" font-weight="normal" textLength="35.3" lengthAdjust="spacingAndGlyphs" >88,000.00</text>
<text x="844.0" y="225.3" font-size="8.6" fill="#131722" text-anchor="start" font-weight="normal" textLength="35.3" lengthAdjust="spacingAndGlyphs" >92,000.00</text>
<text x="844.0" y="203.6" font-size="8.6" fill="#131722" text-anchor="start" font-weight="normal" textLength="35.3" lengthAdjust="spacingAndGlyphs" >96,000.00</text>
<text x="844.0" y="182.0" font-size="8.6" fill="#131722" text-anchor="start" font-weight="normal" textLength="38.5" lengthAdjust="spacingAndGlyphs" >100,000.00</text>
<text x="844.0" y="160.3" font-size="8.6" fill="#131722" text-anchor="start" font-weight="normal" textLength="38.5" lengthAdjust="spacingAndGlyphs" >104,000.00</text>
<text x="844.0" y="138.7" font-size="8.6" fill="#131722" text-anchor="start" font-weight="normal" textLength="38.5" lengthAdjust="spacingAndGlyphs" >108,000.00</text>
<text x="844.0" y="117.0" font-size="8.6" fill="#131722" text-anchor="start" font-weight="normal" textLength="38.5" lengthAdjust="spacingAndGlyphs" >112,000.00</text>
<text x="844.0" y="95.3" font-size="8.6" fill="#131722" text-anchor="start" font-weight="normal" textLength="38.5" lengthAdjust="spacingAndGlyphs" >116,000.00</text>
<text x="844.0" y="73.7" font-size="8.6" fill="#131722" text-anchor="start" font-weight="normal" textLength="38.5" lengthAdjust="spacingAndGlyphs" >120,000.00</text>
<text x="844.0" y="52.0" font-size="8.6" fill="#131722" text-anchor="start" font-weight="normal" textLength="38.5" lengthAdjust="spacingAndGlyphs" >124,000.00</text>
<text x="844.0" y="432.5" font-size="8.6" fill="#131722" text-anchor="start" font-weight="normal" textLength="19.7" lengthAdjust="spacingAndGlyphs" >70.00</text>
<text x="844.0" y="474.4" font-size="8.6" fill="#131722" text-anchor="start" font-weight="normal" textLength="19.7" lengthAdjust="spacingAndGlyphs" >50.00</text>
<text x="844.0" y="495.4" font-size="8.6" fill="#131722" text-anchor="start" font-weight="normal" textLength="19.7" lengthAdjust="spacingAndGlyphs" >40.00</text>
<text x="844.0" y="516.3" font-size="8.6" fill="#131722" text-anchor="start" font-weight="normal" textLength="19.7" lengthAdjust="spacingAndGlyphs" >30.00</text>
<text x="844.0" y="537.2" font-size="8.6" fill="#131722" text-anchor="start" font-weight="normal" textLength="19.7" lengthAdjust="spacingAndGlyphs" >20.00</text>
<rect x="838" y="32" width="49.2" height="11.7" rx="2" fill="#0a0aff"/>
<rect x="838" y="18" width="51" height="22.2" fill="#fff"/>
<rect x="840.5" y="20.5" width="46.2" height="17.2" rx="3" fill="#fff" stroke="#e0e3eb" stroke-width="1"/>
<text x="846.0" y="32.1" font-size="8.6" fill="#131722" text-anchor="start" font-weight="normal" textLength="18.2" lengthAdjust="spacingAndGlyphs" >USDT</text>
<rect x="838" y="185.5" width="44.0" height="10.9" fill="#0a0aff"/>
<text x="843.3" y="193.2" font-size="8.6" fill="#fff" text-anchor="start" font-weight="bold" textLength="35.7" lengthAdjust="spacingAndGlyphs" >97,924.00</text>
<rect x="838" y="202.7" width="44.0" height="10.9" fill="#0a0aff"/>
<text x="843.3" y="210.4" font-size="8.6" fill="#fff" text-anchor="start" font-weight="bold" textLength="35.7" lengthAdjust="spacingAndGlyphs" >94,789.00</text>
<rect x="838" y="261.2" width="44.0" height="10.9" fill="#0a0aff"/>
<text x="843.3" y="268.9" font-size="8.6" fill="#fff" text-anchor="start" font-weight="bold" textLength="35.7" lengthAdjust="spacingAndGlyphs" >84,000.00</text>
<rect x="838" y="293" width="44" height="30.4" fill="#ef5350"/>
<text x="843.3" y="301.3" font-size="8.6" fill="#fff" text-anchor="start" font-weight="bold" textLength="35.7" lengthAdjust="spacingAndGlyphs" >78,078.42</text>
<text x="843.3" y="310.5" font-size="8.6" fill="#fff" text-anchor="start" font-weight="bold" textLength="29.5" lengthAdjust="spacingAndGlyphs" >−35.22%</text>
<text x="843.3" y="319.8" font-size="8.6" fill="#fff" text-anchor="start" font-weight="normal" textLength="31.0" lengthAdjust="spacingAndGlyphs" fill-opacity="0.85">09:16:33</text>
<rect x="799.6" y="293.1" width="37.4" height="10.8" rx="1" fill="#ef5350"/>
<text x="802.6" y="301.4" font-size="8.6" fill="#fff" text-anchor="start" font-weight="normal" textLength="31.5" lengthAdjust="spacingAndGlyphs" >BTCUSDT</text>
<rect x="838" y="323.0" width="44.0" height="10.8" fill="#0a0aff"/>
<text x="843.3" y="330.7" font-size="8.6" fill="#fff" text-anchor="start" font-weight="bold" textLength="35.7" lengthAdjust="spacingAndGlyphs" >76,000.00</text>
<rect x="838" y="333.8" width="44.0" height="11.0" fill="#2962ff"/>
<text x="843.3" y="341.6" font-size="8.6" fill="#fff" text-anchor="start" font-weight="bold" textLength="35.7" lengthAdjust="spacingAndGlyphs" >75,389.19</text>
<rect x="817" y="333.8" width="20" height="11" rx="1" fill="#2962ff"/>
<text x="819.8" y="342.2" font-size="8.6" fill="#fff" text-anchor="start" font-weight="normal" textLength="14.8" lengthAdjust="spacingAndGlyphs" >EMA</text>
<rect x="838" y="345.5" width="44.0" height="10.8" fill="#f23645"/>
<text x="843.3" y="353.2" font-size="8.6" fill="#fff" text-anchor="start" font-weight="bold" textLength="35.7" lengthAdjust="spacingAndGlyphs" >71,820.29</text>
<rect x="804.3" y="345.5" width="32.7" height="10.8" rx="1" fill="#f23645"/>
<text x="807.2" y="353.8" font-size="8.6" fill="#fff" text-anchor="start" font-weight="normal" textLength="27.5" lengthAdjust="spacingAndGlyphs" >SMA:MA</text>
<rect x="838" y="440.1" width="28.4" height="10.7" fill="#7e57c2"/>
<text x="843.3" y="448.4" font-size="8.6" fill="#fff" text-anchor="start" font-weight="bold" textLength="19.7" lengthAdjust="spacingAndGlyphs" >62.67</text>
<rect x="820.9" y="440.1" width="16.1" height="10.7" rx="1" fill="#7e57c2"/>
<text x="823.8" y="448.4" font-size="8.6" fill="#fff" text-anchor="start" font-weight="normal" textLength="10.5" lengthAdjust="spacingAndGlyphs" >RSI</text>
<rect x="838" y="451.7" width="28.4" height="10.6" fill="#fdd835"/>
<text x="843.3" y="459.9" font-size="8.6" fill="#131722" text-anchor="start" font-weight="bold" textLength="19.7" lengthAdjust="spacingAndGlyphs" >62.64</text>
<rect x="785.1" y="451.7" width="51.9" height="10.6" rx="1" fill="#fdd835"/>
<text x="788.0" y="459.9" font-size="8.6" fill="#131722" text-anchor="start" font-weight="normal" textLength="46.3" lengthAdjust="spacingAndGlyphs" >RSI-based MA</text>
<text x="113.9" y="562.7" font-size="8.6" fill="#131722" text-anchor="middle" font-weight="normal" textLength="13.8" lengthAdjust="spacingAndGlyphs" >Nov</text>
<text x="225.2" y="562.7" font-size="8.6" fill="#131722" text-anchor="middle" font-weight="normal" textLength="13.8" lengthAdjust="spacingAndGlyphs" >Dec</text>
<text x="340.2" y="562.7" font-size="8.6" fill="#131722" text-anchor="middle" font-weight="bold" textLength="16.8" lengthAdjust="spacingAndGlyphs" >2026</text>
<text x="455.2" y="562.7" font-size="8.6" fill="#131722" text-anchor="middle" font-weight="normal" textLength="13.3" lengthAdjust="spacingAndGlyphs" >Feb</text>
<text x="559.1" y="562.7" font-size="8.6" fill="#131722" text-anchor="middle" font-weight="normal" textLength="13.3" lengthAdjust="spacingAndGlyphs" >Mar</text>
<text x="674.1" y="562.7" font-size="8.6" fill="#131722" text-anchor="middle" font-weight="normal" textLength="12.0" lengthAdjust="spacingAndGlyphs" >Apr</text>
<text x="785.4" y="562.7" font-size="8.6" fill="#131722" text-anchor="middle" font-weight="normal" textLength="14.6" lengthAdjust="spacingAndGlyphs" >May</text>
<g fill="#111"><path d="M8,583.8 H17.6 V593.6 H12.6 V588.6 H8 Z"/><circle cx="20.3" cy="586.1" r="2.2"/><path d="M23.4,583.8 H28 L23.9,593.6 H19.3 Z"/></g>
<text x="33.1" y="593.6" font-size="13.6" fill="#111" text-anchor="start" font-weight="bold" textLength="79.8" lengthAdjust="spacingAndGlyphs" >TradingView</text>
<g style="mix-blend-mode:multiply"><rect x="0" y="0" width="2" height="2" fill="#fff"/></g>
</svg>
</body></html>
